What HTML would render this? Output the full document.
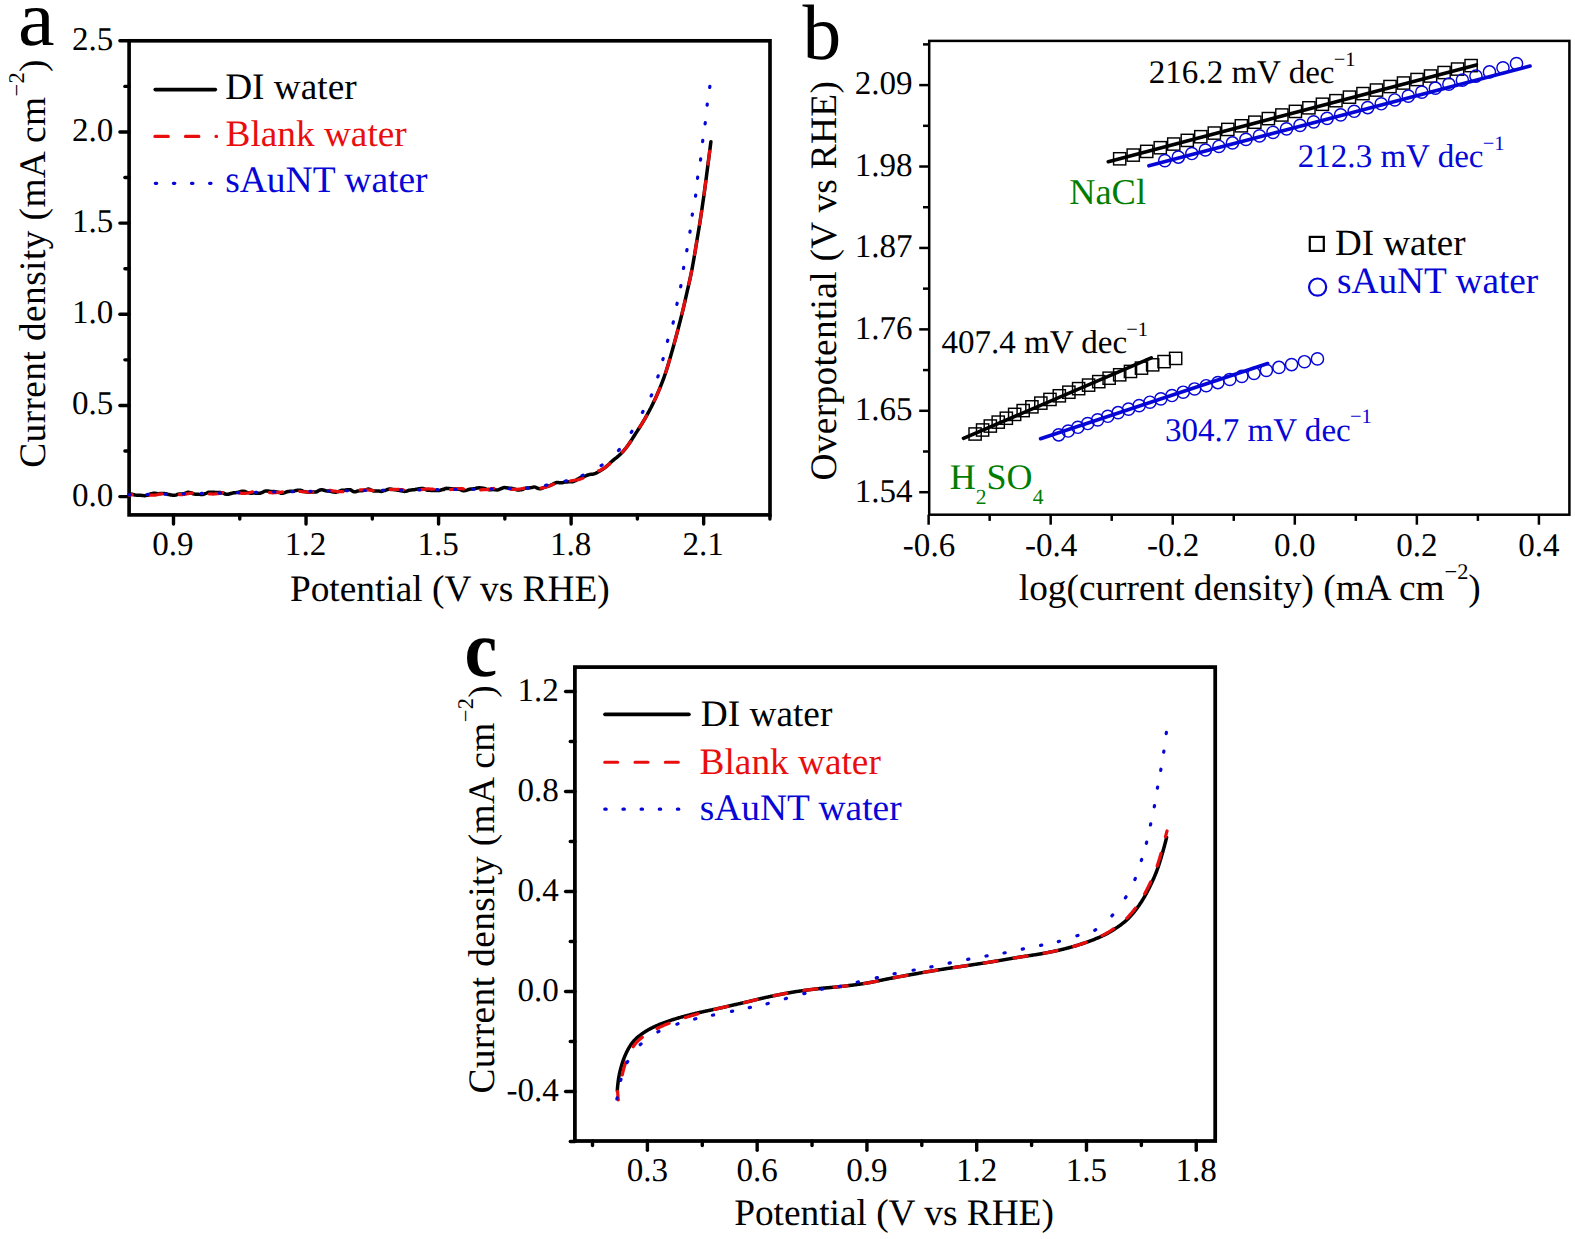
<!DOCTYPE html>
<html lang="en">
<head>
<meta charset="utf-8">
<title>Polarization curves and Tafel plots</title>
<style>
html,body{margin:0;padding:0;background:#fff;}
body{width:1575px;height:1239px;overflow:hidden;font-family:"Liberation Serif", "Times New Roman", serif;}
svg{display:block;}
</style>
</head>
<body>
<svg width="1575" height="1239" viewBox="0 0 1575 1239" font-family='"Liberation Serif", "Times New Roman", serif' text-rendering="geometricPrecision">
<rect x="129.1" y="40.8" width="640.9" height="474.1" fill="none" stroke="#000" stroke-width="3.65"/>
<line x1="173.5" y1="514.9" x2="173.5" y2="524.1" stroke="#000" stroke-width="3.4" stroke-linecap="round"/>
<text x="173" y="554.9" font-size="33.1" fill="#000" text-anchor="middle">0.9</text>
<line x1="306.04" y1="514.9" x2="306.04" y2="524.1" stroke="#000" stroke-width="3.4" stroke-linecap="round"/>
<text x="305.54" y="554.9" font-size="33.1" fill="#000" text-anchor="middle">1.2</text>
<line x1="438.58" y1="514.9" x2="438.58" y2="524.1" stroke="#000" stroke-width="3.4" stroke-linecap="round"/>
<text x="438.08" y="554.9" font-size="33.1" fill="#000" text-anchor="middle">1.5</text>
<line x1="571.12" y1="514.9" x2="571.12" y2="524.1" stroke="#000" stroke-width="3.4" stroke-linecap="round"/>
<text x="570.62" y="554.9" font-size="33.1" fill="#000" text-anchor="middle">1.8</text>
<line x1="703.66" y1="514.9" x2="703.66" y2="524.1" stroke="#000" stroke-width="3.4" stroke-linecap="round"/>
<text x="703.16" y="554.9" font-size="33.1" fill="#000" text-anchor="middle">2.1</text>
<line x1="239.77" y1="514.9" x2="239.77" y2="519.1" stroke="#000" stroke-width="3.4" stroke-linecap="round"/>
<line x1="372.31" y1="514.9" x2="372.31" y2="519.1" stroke="#000" stroke-width="3.4" stroke-linecap="round"/>
<line x1="504.85" y1="514.9" x2="504.85" y2="519.1" stroke="#000" stroke-width="3.4" stroke-linecap="round"/>
<line x1="637.39" y1="514.9" x2="637.39" y2="519.1" stroke="#000" stroke-width="3.4" stroke-linecap="round"/>
<line x1="769.93" y1="514.9" x2="769.93" y2="519.1" stroke="#000" stroke-width="3.4" stroke-linecap="round"/>
<line x1="129.1" y1="496.6" x2="119.9" y2="496.6" stroke="#000" stroke-width="3.4" stroke-linecap="round"/>
<text x="113.3" y="505.5" font-size="33.1" fill="#000" text-anchor="end">0.0</text>
<line x1="129.1" y1="405.44" x2="119.9" y2="405.44" stroke="#000" stroke-width="3.4" stroke-linecap="round"/>
<text x="113.3" y="414.34" font-size="33.1" fill="#000" text-anchor="end">0.5</text>
<line x1="129.1" y1="314.28" x2="119.9" y2="314.28" stroke="#000" stroke-width="3.4" stroke-linecap="round"/>
<text x="113.3" y="323.18" font-size="33.1" fill="#000" text-anchor="end">1.0</text>
<line x1="129.1" y1="223.12" x2="119.9" y2="223.12" stroke="#000" stroke-width="3.4" stroke-linecap="round"/>
<text x="113.3" y="232.02" font-size="33.1" fill="#000" text-anchor="end">1.5</text>
<line x1="129.1" y1="131.96" x2="119.9" y2="131.96" stroke="#000" stroke-width="3.4" stroke-linecap="round"/>
<text x="113.3" y="140.86" font-size="33.1" fill="#000" text-anchor="end">2.0</text>
<line x1="129.1" y1="40.8" x2="119.9" y2="40.8" stroke="#000" stroke-width="3.4" stroke-linecap="round"/>
<text x="113.3" y="49.7" font-size="33.1" fill="#000" text-anchor="end">2.5</text>
<line x1="129.1" y1="451.02" x2="124.9" y2="451.02" stroke="#000" stroke-width="3.4" stroke-linecap="round"/>
<line x1="129.1" y1="359.86" x2="124.9" y2="359.86" stroke="#000" stroke-width="3.4" stroke-linecap="round"/>
<line x1="129.1" y1="268.7" x2="124.9" y2="268.7" stroke="#000" stroke-width="3.4" stroke-linecap="round"/>
<line x1="129.1" y1="177.54" x2="124.9" y2="177.54" stroke="#000" stroke-width="3.4" stroke-linecap="round"/>
<line x1="129.1" y1="86.38" x2="124.9" y2="86.38" stroke="#000" stroke-width="3.4" stroke-linecap="round"/>
<text x="449.8" y="601" font-size="37.35" fill="#000" text-anchor="middle">Potential (V vs RHE)</text>
<text x="44.6" y="263.4" font-size="37.4" fill="#000" text-anchor="middle" transform="rotate(-90 44.6 263.4)" letter-spacing="0.40">Current density (mA cm<tspan font-size="22.44" dy="-20.7">−2</tspan><tspan font-size="37.4" dy="20.7">)</tspan></text>
<text transform="translate(17.9 45.1) scale(1.03 0.985)" font-size="80">a</text>
<path d="M129.5 493.59 L130.42 493.91 L131.34 494.26 L132.27 494.26 L133.19 494.56 L134.11 494.8 L135.03 495.02 L135.95 495.12 L136.87 495.19 L137.8 495.19 L138.72 495.16 L139.64 495.16 L140.56 495.22 L141.48 495.41 L142.4 495.53 L143.33 495.61 L144.25 495.64 L145.17 495.64 L146.09 495.48 L147.01 495.38 L147.94 495.26 L148.86 494.95 L149.78 494.22 L150.7 493.79 L151.62 493.64 L152.54 493.48 L153.47 493.3 L154.39 493.29 L155.31 493.33 L156.23 493.41 L157.15 493.56 L158.07 493.68 L159 493.65 L159.92 493.62 L160.84 493.58 L161.76 493.52 L162.68 493.48 L163.61 493.45 L164.53 493.58 L165.45 493.74 L166.37 493.76 L167.29 494.18 L168.21 494.47 L169.14 494.49 L170.06 494.74 L170.98 494.96 L171.9 495.1 L172.82 495.27 L173.74 495.22 L174.67 495.26 L175.59 495.13 L176.51 494.83 L177.43 494.46 L178.35 494.17 L179.27 494 L180.2 493.98 L181.12 493.88 L182.04 493.89 L182.96 493.8 L183.88 493.81 L184.81 493.47 L185.73 492.98 L186.65 492.71 L187.57 492.36 L188.49 492.33 L189.41 492.42 L190.34 492.66 L191.26 492.79 L192.18 493.21 L193.1 493.85 L194.02 493.93 L194.94 494.14 L195.87 494.16 L196.79 494.17 L197.71 494.17 L198.63 494.24 L199.55 494.37 L200.47 494.47 L201.4 494.49 L202.32 494.43 L203.24 494.39 L204.16 494.13 L205.08 493.66 L206.01 493.42 L206.93 492.97 L207.85 492.42 L208.77 492.21 L209.69 492.15 L210.61 492.21 L211.54 492.16 L212.46 492.15 L213.38 492.19 L214.3 492.24 L215.22 492.37 L216.14 492.45 L217.07 492.51 L217.99 492.55 L218.91 492.51 L219.83 492.48 L220.75 492.59 L221.67 492.85 L222.6 492.91 L223.52 493.2 L224.44 493.64 L225.36 494.14 L226.28 494.32 L227.21 494.34 L228.13 494.29 L229.05 494.06 L229.97 493.74 L230.89 493.5 L231.81 493.24 L232.74 493.04 L233.66 492.8 L234.58 492.74 L235.5 492.65 L236.42 492.54 L237.34 492.38 L238.27 492.27 L239.19 491.88 L240.11 491.71 L241.03 491.46 L241.95 491.36 L242.87 491.32 L243.8 491.31 L244.72 491.48 L245.64 491.74 L246.56 492.14 L247.48 492.38 L248.4 492.59 L249.33 492.86 L250.25 493.21 L251.17 493.24 L252.09 493.19 L253.01 493.12 L253.94 493.08 L254.86 493.08 L255.78 493.15 L256.7 493.2 L257.62 493.22 L258.54 493.25 L259.47 493.26 L260.39 493.16 L261.31 492.75 L262.23 492.52 L263.15 491.96 L264.07 491.47 L265 491.18 L265.92 490.92 L266.84 490.91 L267.76 490.96 L268.68 491.21 L269.6 491.27 L270.53 491.43 L271.45 491.54 L272.37 491.62 L273.29 491.61 L274.21 491.61 L275.13 491.64 L276.06 491.83 L276.98 491.92 L277.9 492.19 L278.82 492.45 L279.74 492.55 L280.66 493.15 L281.59 493.22 L282.51 493.2 L283.43 492.95 L284.35 492.81 L285.27 492.43 L286.2 491.94 L287.12 491.75 L288.04 491.56 L288.96 491.45 L289.88 491.35 L290.8 491.36 L291.73 491.35 L292.65 491.3 L293.57 491.18 L294.49 490.99 L295.41 490.63 L296.33 490.39 L297.26 490.3 L298.18 490.28 L299.1 490.25 L300.02 490.27 L300.94 490.33 L301.86 490.62 L302.79 491.1 L303.71 491.37 L304.63 491.61 L305.55 491.66 L306.47 491.92 L307.4 492.12 L308.32 492.19 L309.24 492.15 L310.16 492.05 L311.08 491.98 L312 491.98 L312.93 492.01 L313.85 492.05 L314.77 492.07 L315.69 492.01 L316.61 491.79 L317.54 491.37 L318.46 490.71 L319.38 490.15 L320.3 489.92 L321.22 489.8 L322.14 489.83 L323.07 489.91 L323.99 490.33 L324.91 490.5 L325.83 490.85 L326.75 490.91 L327.67 490.96 L328.6 491.05 L329.52 491.14 L330.44 491.35 L331.36 491.55 L332.28 491.74 L333.21 491.97 L334.13 492.12 L335.05 492.28 L335.97 492.19 L336.89 491.7 L337.81 491.8 L338.74 491.44 L339.66 490.95 L340.58 490.67 L341.5 490.29 L342.42 490.15 L343.35 490.13 L344.27 490.14 L345.19 490.07 L346.11 489.97 L347.03 489.84 L347.95 489.77 L348.88 489.74 L349.8 489.73 L350.72 489.84 L351.64 490.52 L352.56 491.12 L353.49 491.57 L354.41 491.87 L355.33 491.81 L356.25 491.58 L357.17 491.14 L358.09 490.91 L359.02 490.82 L359.94 490.69 L360.86 490.74 L361.78 490.69 L362.7 490.52 L363.63 490.41 L364.55 490.17 L365.47 489.96 L366.39 489.73 L367.31 489.15 L368.24 489.08 L369.16 489.19 L370.08 489.63 L371 489.92 L371.92 490.41 L372.84 490.71 L373.77 490.96 L374.69 490.93 L375.61 490.95 L376.53 490.94 L377.45 490.93 L378.38 491.03 L379.3 491.09 L380.22 491.31 L381.14 491.39 L382.06 491.29 L382.98 491.08 L383.91 490.58 L384.83 490.55 L385.75 490.12 L386.67 489.84 L387.59 489.44 L388.52 489.2 L389.44 489.07 L390.36 489.08 L391.28 489.27 L392.2 489.56 L393.12 489.62 L394.05 489.64 L394.97 489.65 L395.89 489.74 L396.81 490.09 L397.73 490.18 L398.66 490.37 L399.58 490.52 L400.5 490.66 L401.42 490.71 L402.34 491.08 L403.27 491.18 L404.19 491.4 L405.11 491.26 L406.03 491.15 L406.95 491.01 L407.87 490.8 L408.8 490.29 L409.72 490.15 L410.64 490.1 L411.56 489.93 L412.48 489.81 L413.41 489.78 L414.33 489.65 L415.25 489.52 L416.17 489.29 L417.09 489.15 L418.01 488.91 L418.94 488.7 L419.86 488.7 L420.78 488.52 L421.7 488.48 L422.62 488.46 L423.55 488.46 L424.47 488.9 L425.39 489.31 L426.31 489.84 L427.23 490.27 L428.16 490.31 L429.08 490.24 L430 490.35 L430.92 490.42 L431.84 490.39 L432.76 490.35 L433.69 490.38 L434.61 490.39 L435.53 490.48 L436.45 490.59 L437.37 490.58 L438.3 490.61 L439.22 490.52 L440.14 490.37 L441.06 489.99 L441.98 489.78 L442.9 489.34 L443.83 489.39 L444.75 488.84 L445.67 488.4 L446.59 488.35 L447.51 488.38 L448.44 488.52 L449.36 488.47 L450.28 488.63 L451.2 488.77 L452.12 488.82 L453.05 488.91 L453.97 488.93 L454.89 488.96 L455.81 489 L456.73 489.14 L457.65 489.1 L458.58 489.17 L459.5 489.35 L460.42 489.73 L461.34 490.07 L462.26 490.58 L463.19 490.66 L464.11 490.72 L465.03 490.63 L465.95 490.45 L466.87 490.1 L467.79 489.88 L468.72 489.41 L469.64 489.25 L470.56 489.07 L471.48 489.02 L472.4 488.89 L473.33 488.87 L474.25 488.68 L475.17 488.51 L476.09 488.25 L477.01 487.96 L477.94 487.9 L478.86 487.86 L479.78 487.83 L480.7 487.95 L481.62 487.94 L482.54 488.2 L483.47 488.3 L484.39 488.44 L485.31 488.74 L486.23 489.17 L487.15 489.36 L488.08 489.53 L489 489.67 L489.92 489.71 L490.84 489.63 L491.76 489.63 L492.68 489.61 L493.61 489.6 L494.53 489.69 L495.45 489.8 L496.37 489.88 L497.29 489.9 L498.22 489.85 L499.14 489.58 L500.06 489.02 L500.98 488.79 L501.9 488.33 L502.82 487.85 L503.75 487.55 L504.67 487.6 L505.59 487.69 L506.51 487.8 L507.43 487.95 L508.36 488.05 L509.28 488.23 L510.2 488.32 L511.12 488.36 L512.04 488.48 L512.96 488.58 L513.89 488.84 L514.81 489.06 L515.73 489.37 L516.65 489.79 L517.57 489.92 L518.49 489.91 L519.42 489.9 L520.34 489.82 L521.26 489.76 L522.18 489.62 L523.11 489.16 L524.03 488.56 L524.96 488.35 L525.89 488.08 L526.81 487.95 L527.74 487.95 L528.66 487.9 L529.59 487.82 L530.51 487.67 L531.43 487.62 L532.35 487.44 L533.28 487.14 L534.19 486.96 L535.11 487.15 L536.03 487.34 L536.94 488.04 L537.85 488.5 L538.76 488.52 L539.66 488.74 L540.56 488.67 L541.46 488.48 L542.36 488.17 L543.25 487.75 L544.15 487.4 L545.04 487.1 L545.94 486.83 L546.83 486.6 L547.73 486.37 L548.63 485.98 L549.54 485.63 L550.44 485.26 L551.35 484.85 L552.25 484.59 L553.16 484.15 L554.06 483.35 L554.97 483.06 L555.87 482.77 L556.77 482.59 L557.68 482.45 L558.58 482.6 L559.48 482.79 L560.38 482.77 L561.28 482.78 L562.19 482.66 L563.09 482.51 L563.99 482.33 L564.89 482.14 L565.79 481.99 L566.68 481.9 L567.58 481.88 L568.48 481.87 L569.38 481.72 L570.27 481.77 L571.17 481.69 L572.07 481.78 L572.96 481.66 L573.85 481.31 L574.75 480.89 L575.64 480.64 L576.53 479.91 L577.42 479.09 L578.31 478.79 L579.19 478.27 L580.08 477.78 L580.97 477.53 L581.85 477.24 L582.74 477 L583.61 476.74 L584.49 476.39 L585.36 476.01 L586.23 475.66 L587.09 475.26 L587.95 474.94 L588.81 474.7 L589.67 474.43 L590.53 474.32 L591.38 474.15 L592.23 474.13 L593.08 474.13 L593.92 473.85 L594.76 473.65 L595.6 473.29 L596.44 472.89 L597.28 472.45 L598.12 472.01 L598.96 471.55 L599.79 471.01 L600.61 470.52 L601.41 470 L602.19 469.5 L602.96 469.01 L603.72 468.5 L604.47 467.97 L605.22 467.41 L605.96 466.82 L606.69 466.23 L607.41 465.53 L608.13 464.96 L608.85 464.36 L609.56 463.67 L610.27 462.83 L610.97 462.14 L611.67 461.54 L612.38 460.89 L613.08 460.3 L613.78 459.75 L614.49 459.19 L615.19 458.62 L615.89 458.08 L616.58 457.54 L617.27 457.01 L617.96 456.45 L618.64 455.82 L619.32 455.18 L619.98 454.54 L620.65 453.9 L621.3 453.25 L621.94 452.6 L622.58 451.94 L623.2 451.29 L623.81 450.61 L624.41 449.92 L625 449.22 L625.58 448.51 L626.14 447.79 L626.7 447.05 L627.25 446.31 L627.8 445.56 L628.33 444.81 L628.86 444.05 L629.38 443.29 L629.9 442.52 L630.41 441.75 L630.92 440.98 L631.42 440.2 L631.93 439.42 L632.42 438.63 L632.92 437.85 L633.42 437.06 L633.91 436.28 L634.41 435.49 L634.9 434.71 L635.4 433.93 L635.9 433.15 L636.4 432.38 L636.9 431.61 L637.4 430.83 L637.9 430.06 L638.4 429.28 L638.9 428.5 L639.39 427.73 L639.89 426.95 L640.38 426.17 L640.87 425.38 L641.36 424.6 L641.85 423.82 L642.33 423.03 L642.82 422.24 L643.29 421.46 L643.77 420.66 L644.24 419.87 L644.71 419.08 L645.17 418.28 L645.63 417.48 L646.08 416.68 L646.53 415.88 L646.98 415.08 L647.42 414.27 L647.86 413.46 L648.3 412.65 L648.73 411.84 L649.16 411.02 L649.59 410.21 L650.02 409.39 L650.44 408.57 L650.87 407.75 L651.28 406.92 L651.7 406.1 L652.11 405.27 L652.52 404.45 L652.93 403.62 L653.33 402.79 L653.73 401.95 L654.13 401.12 L654.53 400.29 L654.92 399.45 L655.3 398.62 L655.69 397.78 L656.07 396.94 L656.45 396.1 L656.82 395.26 L657.19 394.42 L657.56 393.57 L657.92 392.73 L658.29 391.88 L658.65 391.03 L659.01 390.18 L659.36 389.33 L659.71 388.48 L660.06 387.62 L660.41 386.77 L660.76 385.91 L661.1 385.05 L661.44 384.2 L661.77 383.33 L662.11 382.47 L662.43 381.61 L662.76 380.75 L663.08 379.88 L663.4 379.02 L663.72 378.15 L664.03 377.29 L664.34 376.42 L664.64 375.55 L664.94 374.68 L665.24 373.81 L665.53 372.94 L665.82 372.06 L666.11 371.19 L666.39 370.31 L666.67 369.43 L666.95 368.55 L667.22 367.67 L667.5 366.79 L667.76 365.91 L668.03 365.03 L668.3 364.14 L668.56 363.26 L668.82 362.37 L669.08 361.49 L669.34 360.6 L669.6 359.72 L669.86 358.83 L670.12 357.94 L670.37 357.06 L670.63 356.17 L670.89 355.29 L671.14 354.4 L671.4 353.52 L671.65 352.63 L671.91 351.74 L672.16 350.86 L672.41 349.97 L672.66 349.08 L672.91 348.19 L673.15 347.31 L673.4 346.42 L673.64 345.53 L673.89 344.64 L674.13 343.75 L674.37 342.86 L674.62 341.97 L674.86 341.08 L675.1 340.19 L675.34 339.3 L675.58 338.41 L675.82 337.52 L676.05 336.63 L676.29 335.74 L676.53 334.85 L676.77 333.96 L677 333.07 L677.24 332.17 L677.48 331.28 L677.71 330.39 L677.95 329.5 L678.18 328.61 L678.42 327.72 L678.65 326.83 L678.89 325.93 L679.12 325.04 L679.35 324.15 L679.58 323.26 L679.82 322.37 L680.05 321.47 L680.28 320.58 L680.5 319.69 L680.73 318.79 L680.96 317.9 L681.18 317.01 L681.41 316.11 L681.63 315.22 L681.85 314.32 L682.07 313.43 L682.29 312.53 L682.51 311.64 L682.73 310.74 L682.94 309.84 L683.15 308.95 L683.37 308.05 L683.58 307.15 L683.79 306.25 L684 305.36 L684.2 304.46 L684.41 303.56 L684.62 302.66 L684.82 301.76 L685.03 300.86 L685.24 299.97 L685.44 299.07 L685.64 298.17 L685.85 297.27 L686.05 296.37 L686.26 295.47 L686.46 294.57 L686.67 293.67 L686.87 292.77 L687.08 291.87 L687.28 290.98 L687.49 290.08 L687.69 289.18 L687.9 288.28 L688.1 287.38 L688.31 286.48 L688.51 285.58 L688.72 284.68 L688.92 283.78 L689.12 282.88 L689.32 281.98 L689.52 281.08 L689.72 280.18 L689.92 279.28 L690.12 278.38 L690.31 277.48 L690.5 276.58 L690.69 275.68 L690.88 274.78 L691.07 273.87 L691.25 272.97 L691.43 272.07 L691.61 271.16 L691.79 270.26 L691.97 269.35 L692.14 268.45 L692.31 267.54 L692.48 266.63 L692.65 265.73 L692.81 264.82 L692.98 263.91 L693.14 263.01 L693.3 262.1 L693.46 261.19 L693.62 260.28 L693.77 259.37 L693.93 258.47 L694.08 257.56 L694.24 256.65 L694.39 255.74 L694.54 254.83 L694.69 253.92 L694.84 253.01 L695 252.1 L695.15 251.19 L695.3 250.28 L695.45 249.37 L695.6 248.46 L695.75 247.55 L695.9 246.64 L696.05 245.73 L696.2 244.82 L696.35 243.91 L696.5 243 L696.65 242.1 L696.8 241.19 L696.96 240.28 L697.11 239.37 L697.26 238.46 L697.41 237.55 L697.57 236.64 L697.72 235.73 L697.87 234.82 L698.02 233.91 L698.18 233 L698.33 232.09 L698.48 231.18 L698.63 230.27 L698.78 229.36 L698.93 228.45 L699.08 227.55 L699.23 226.64 L699.38 225.73 L699.52 224.82 L699.67 223.9 L699.81 222.99 L699.96 222.08 L700.1 221.17 L700.24 220.26 L700.38 219.35 L700.53 218.44 L700.67 217.53 L700.8 216.62 L700.94 215.71 L701.08 214.8 L701.22 213.88 L701.36 212.97 L701.49 212.06 L701.63 211.15 L701.76 210.24 L701.9 209.32 L702.03 208.41 L702.17 207.5 L702.3 206.59 L702.43 205.68 L702.56 204.76 L702.7 203.85 L702.83 202.94 L702.96 202.03 L703.09 201.11 L703.22 200.2 L703.35 199.29 L703.48 198.37 L703.61 197.46 L703.73 196.55 L703.86 195.64 L703.99 194.72 L704.12 193.81 L704.24 192.9 L704.37 191.98 L704.49 191.07 L704.62 190.16 L704.74 189.24 L704.86 188.33 L704.99 187.42 L705.11 186.5 L705.23 185.59 L705.35 184.67 L705.47 183.76 L705.59 182.85 L705.71 181.93 L705.83 181.02 L705.95 180.1 L706.07 179.19 L706.19 178.27 L706.31 177.36 L706.43 176.45 L706.54 175.53 L706.66 174.62 L706.78 173.7 L706.9 172.79 L707.02 171.87 L707.14 170.96 L707.25 170.05 L707.37 169.13 L707.49 168.22 L707.61 167.3 L707.73 166.39 L707.85 165.47 L707.96 164.56 L708.08 163.65 L708.2 162.73 L708.32 161.82 L708.44 160.9 L708.56 159.99 L708.67 159.07 L708.79 158.16 L708.91 157.25 L709.03 156.33 L709.15 155.42 L709.26 154.5 L709.38 153.59 L709.5 152.67 L709.62 151.76 L709.73 150.85 L709.85 149.93 L709.97 149.02 L710.08 148.1 L710.2 147.19 L710.32 146.27 L710.43 145.36 L710.55 144.44 L710.67 143.53 L710.78 142.61 L710.9 141.7" fill="none" stroke="#000" stroke-width="3.5" stroke-linecap="round" stroke-linejoin="round"/>
<path d="M129.5 495.32 L130.42 495.11 L131.34 494.96 L132.27 494.72 L133.19 494.44 L134.11 494.18 L135.03 494.08 L135.95 494 L136.87 493.9 L137.8 493.85 L138.72 493.84 L139.64 493.84 L140.56 493.81 L141.48 493.85 L142.4 493.95 L143.33 494.08 L144.25 494.35 L145.17 494.56 L146.09 494.65 L147.01 494.86 L147.94 494.97 L148.86 495.13 L149.78 495.18 L150.7 495.21 L151.62 495.19 L152.54 495.14 L153.47 495.12 L154.39 495.04 L155.31 495.06 L156.23 494.94 L157.15 494.74 L158.07 494.41 L159 494.2 L159.92 494.11 L160.84 494.09 L161.76 493.77 L162.68 493.74 L163.61 493.55 L164.53 493.58 L165.45 493.47 L166.37 493.36 L167.29 493.31 L168.21 493.29 L169.14 493.28 L170.06 493.28 L170.98 493.36 L171.9 493.47 L172.82 493.55 L173.74 493.68 L174.67 493.72 L175.59 493.95 L176.51 494.2 L177.43 494.25 L178.35 494.37 L179.27 494.53 L180.2 494.56 L181.12 494.64 L182.04 494.6 L182.96 494.54 L183.88 494.39 L184.81 494.12 L185.73 494.08 L186.65 493.86 L187.57 493.71 L188.49 493.56 L189.41 493.34 L190.34 493.23 L191.26 493.2 L192.18 493.17 L193.1 493.04 L194.02 492.9 L194.94 492.83 L195.87 492.78 L196.79 492.75 L197.71 492.79 L198.63 492.86 L199.55 492.9 L200.47 492.96 L201.4 493.17 L202.32 493.25 L203.24 493.34 L204.16 493.47 L205.08 493.5 L206.01 493.71 L206.93 493.63 L207.85 493.86 L208.77 493.92 L209.69 493.92 L210.61 494 L211.54 493.97 L212.46 494.03 L213.38 494.03 L214.3 494 L215.22 493.96 L216.14 493.84 L217.07 493.77 L217.99 493.64 L218.91 493.47 L219.83 493.16 L220.75 493.04 L221.67 492.87 L222.6 492.62 L223.52 492.68 L224.44 492.56 L225.36 492.57 L226.28 492.57 L227.21 492.31 L228.13 492.2 L229.05 492.12 L229.97 492.11 L230.89 492.13 L231.81 492.16 L232.74 492.19 L233.66 492.27 L234.58 492.38 L235.5 492.63 L236.42 492.74 L237.34 492.91 L238.27 493.01 L239.19 493.13 L240.11 493.13 L241.03 493.3 L241.95 493.34 L242.87 493.38 L243.8 493.4 L244.72 493.39 L245.64 493.32 L246.56 493.23 L247.48 493.11 L248.4 492.95 L249.33 492.73 L250.25 492.52 L251.17 492.23 L252.09 491.94 L253.01 491.77 L253.94 491.74 L254.86 491.59 L255.78 491.58 L256.7 491.59 L257.62 491.62 L258.54 491.58 L259.47 491.68 L260.39 491.7 L261.31 491.95 L262.23 491.85 L263.15 491.97 L264.07 492.17 L265 492.26 L265.92 492.31 L266.84 492.45 L267.76 492.52 L268.68 492.6 L269.6 492.68 L270.53 492.72 L271.45 492.76 L272.37 492.8 L273.29 492.79 L274.21 492.75 L275.13 492.71 L276.06 492.59 L276.98 492.55 L277.9 492.36 L278.82 492.45 L279.74 492.39 L280.66 492.37 L281.59 492.15 L282.51 491.96 L283.43 491.92 L284.35 491.81 L285.27 491.52 L286.2 491.37 L287.12 491.18 L288.04 491.16 L288.96 491.14 L289.88 490.99 L290.8 490.85 L291.73 490.82 L292.65 490.83 L293.57 490.83 L294.49 490.94 L295.41 490.99 L296.33 491.05 L297.26 491.01 L298.18 491.08 L299.1 491.21 L300.02 491.46 L300.94 491.48 L301.86 491.7 L302.79 491.79 L303.71 491.87 L304.63 491.9 L305.55 491.87 L306.47 491.88 L307.4 492.05 L308.32 492.05 L309.24 492.07 L310.16 492.1 L311.08 492.08 L312 492.06 L312.93 492.02 L313.85 491.95 L314.77 491.8 L315.69 491.69 L316.61 491.57 L317.54 491.35 L318.46 491.13 L319.38 491.05 L320.3 490.91 L321.22 490.88 L322.14 490.63 L323.07 490.59 L323.99 490.46 L324.91 490.3 L325.83 490.25 L326.75 490.25 L327.67 490.24 L328.6 490.25 L329.52 490.35 L330.44 490.45 L331.36 490.55 L332.28 490.91 L333.21 490.97 L334.13 491.05 L335.05 491.14 L335.97 491.29 L336.89 491.42 L337.81 491.49 L338.74 491.59 L339.66 491.64 L340.58 491.64 L341.5 491.62 L342.42 491.61 L343.35 491.58 L344.27 491.55 L345.19 491.49 L346.11 491.47 L347.03 491.42 L347.95 491.31 L348.88 491.22 L349.8 491.06 L350.72 491 L351.64 490.87 L352.56 490.82 L353.49 490.69 L354.41 490.51 L355.33 490.39 L356.25 490.37 L357.17 490.25 L358.09 490.1 L359.02 489.92 L359.94 489.84 L360.86 489.8 L361.78 489.78 L362.7 489.75 L363.63 489.75 L364.55 489.74 L365.47 489.77 L366.39 489.75 L367.31 489.86 L368.24 489.96 L369.16 490.1 L370.08 490.14 L371 490.21 L371.92 490.42 L372.84 490.64 L373.77 490.97 L374.69 491.1 L375.61 491.07 L376.53 491.12 L377.45 491.14 L378.38 491.13 L379.3 491.09 L380.22 491 L381.14 490.92 L382.06 490.77 L382.98 490.5 L383.91 490.41 L384.83 490.45 L385.75 490.39 L386.67 490.09 L387.59 489.92 L388.52 489.8 L389.44 489.75 L390.36 489.56 L391.28 489.45 L392.2 489.39 L393.12 489.36 L394.05 489.34 L394.97 489.33 L395.89 489.37 L396.81 489.5 L397.73 489.46 L398.66 489.45 L399.58 489.53 L400.5 489.64 L401.42 489.63 L402.34 489.69 L403.27 489.78 L404.19 489.86 L405.11 489.95 L406.03 490.08 L406.95 490.29 L407.87 490.46 L408.8 490.59 L409.72 490.67 L410.64 490.68 L411.56 490.7 L412.48 490.71 L413.41 490.67 L414.33 490.58 L415.25 490.47 L416.17 490.35 L417.09 490.18 L418.01 490.18 L418.94 490.04 L419.86 489.95 L420.78 489.71 L421.7 489.62 L422.62 489.46 L423.55 489.36 L424.47 489.2 L425.39 489.06 L426.31 489 L427.23 488.95 L428.16 488.93 L429.08 488.96 L430 488.99 L430.92 489.05 L431.84 489.11 L432.76 489.13 L433.69 489.25 L434.61 489.41 L435.53 489.46 L436.45 489.74 L437.37 489.8 L438.3 489.99 L439.22 490.13 L440.14 490.1 L441.06 490.19 L441.98 490.18 L442.9 490.25 L443.83 490.32 L444.75 490.34 L445.67 490.28 L446.59 490.27 L447.51 490.22 L448.44 490.03 L449.36 489.89 L450.28 489.58 L451.2 489.5 L452.12 489.4 L453.05 489.38 L453.97 489.27 L454.89 489.01 L455.81 488.96 L456.73 488.79 L457.65 488.68 L458.58 488.61 L459.5 488.58 L460.42 488.58 L461.34 488.7 L462.26 488.7 L463.19 488.83 L464.11 489.07 L465.03 489.24 L465.95 489.53 L466.87 489.38 L467.79 489.48 L468.72 489.5 L469.64 489.58 L470.56 489.68 L471.48 489.82 L472.4 489.85 L473.33 489.95 L474.25 489.94 L475.17 489.99 L476.09 489.99 L477.01 489.97 L477.94 489.96 L478.86 489.95 L479.78 489.94 L480.7 489.92 L481.62 489.83 L482.54 489.7 L483.47 489.68 L484.39 489.72 L485.31 489.63 L486.23 489.62 L487.15 489.52 L488.08 489.44 L489 489.07 L489.92 489.08 L490.84 488.9 L491.76 488.59 L492.68 488.49 L493.61 488.43 L494.53 488.23 L495.45 488.25 L496.37 488.26 L497.29 488.23 L498.22 488.14 L499.14 488.07 L500.06 488.05 L500.98 488.13 L501.9 488.17 L502.82 488.25 L503.75 488.31 L504.67 488.52 L505.59 488.64 L506.51 488.73 L507.43 489.01 L508.36 489.22 L509.28 489.36 L510.2 489.36 L511.12 489.36 L512.04 489.4 L512.96 489.42 L513.89 489.42 L514.81 489.4 L515.73 489.36 L516.65 489.32 L517.57 489.24 L518.49 489.16 L519.42 489.08 L520.34 488.97 L521.26 488.77 L522.18 488.58 L523.11 488.5 L524.03 488.31 L524.96 488.14 L525.89 487.95 L526.81 487.84 L527.74 487.67 L528.66 487.57 L529.59 487.54 L530.51 487.51 L531.43 487.48 L532.35 487.43 L533.28 487.41 L534.19 487.39 L535.11 487.4 L536.03 487.51 L536.94 487.76 L537.85 487.84 L538.76 488.11 L539.66 488.18 L540.56 488.22 L541.46 488.1 L542.36 487.89 L543.25 487.73 L544.15 487.53 L545.04 487.27 L545.94 487.01 L546.83 486.73 L547.73 486.42 L548.63 486.2 L549.54 485.96 L550.44 485.59 L551.35 485.11 L552.25 484.77 L553.16 484.37 L554.06 484.05 L554.97 483.72 L555.87 483.48 L556.77 483.23 L557.68 483.01 L558.58 482.78 L559.48 482.59 L560.38 482.45 L561.28 482.35 L562.19 482.21 L563.09 482.18 L563.99 481.86 L564.89 481.67 L565.79 481.55 L566.68 481.32 L567.58 481.28 L568.48 481.23 L569.38 481.08 L570.27 481.01 L571.17 480.79 L572.07 480.63 L572.96 480.51 L573.85 480.27 L574.75 480.26 L575.64 480.09 L576.53 480.02 L577.42 479.84 L578.31 479.64 L579.19 479.39 L580.08 479.13 L580.97 478.85 L581.85 478.54 L582.74 478.14 L583.61 477.8 L584.49 477.42 L585.36 476.99 L586.23 476.51 L587.09 476.09 L587.95 475.68 L588.81 475.29 L589.67 474.85 L590.53 474.4 L591.38 474.01 L592.23 473.6 L593.08 473.17 L593.92 472.77 L594.76 472.4 L595.6 472.02 L596.44 471.68 L597.28 471.36 L598.12 471.06 L598.96 470.72 L599.79 470.39 L600.61 470.06 L601.41 469.69 L602.19 469.2 L602.96 468.77 L603.72 468.33 L604.47 467.87 L605.22 467.36 L605.96 466.84 L606.69 466.24 L607.41 465.65 L608.13 465 L608.85 464.43 L609.56 463.91 L610.27 463.35 L610.97 462.75 L611.67 462.16 L612.38 461.55 L613.08 460.94 L613.78 460.33 L614.49 459.69 L615.19 459.06 L615.89 458.43 L616.58 457.76 L617.27 457.1 L617.96 456.43 L618.64 455.75 L619.32 455.1 L619.98 454.46 L620.65 453.79 L621.3 453.14 L621.94 452.47 L622.58 451.81 L623.2 451.14 L623.81 450.47 L624.41 449.8 L625 449.12 L625.58 448.42 L626.14 447.72 L626.7 447.01 L627.25 446.28 L627.8 445.55 L628.33 444.81 L628.86 444.05 L629.38 443.29 L629.9 442.52 L630.41 441.75 L630.92 440.98 L631.42 440.2 L631.93 439.42 L632.42 438.63 L632.92 437.85 L633.42 437.06 L633.91 436.28 L634.41 435.49 L634.9 434.71 L635.4 433.93 L635.9 433.15 L636.4 432.38 L636.9 431.61 L637.4 430.83 L637.9 430.06 L638.4 429.28 L638.9 428.5 L639.39 427.73 L639.89 426.95 L640.38 426.17 L640.87 425.38 L641.36 424.6 L641.85 423.82 L642.33 423.03 L642.82 422.24 L643.29 421.46 L643.77 420.66 L644.24 419.87 L644.71 419.08 L645.17 418.28 L645.63 417.48 L646.08 416.68 L646.53 415.88 L646.98 415.08 L647.42 414.27 L647.86 413.46 L648.3 412.65 L648.73 411.84 L649.16 411.02 L649.59 410.21 L650.02 409.39 L650.44 408.57 L650.87 407.75 L651.28 406.92 L651.7 406.1 L652.11 405.27 L652.52 404.45 L652.93 403.62 L653.33 402.79 L653.73 401.95 L654.13 401.12 L654.53 400.29 L654.92 399.45 L655.3 398.62 L655.69 397.78 L656.07 396.94 L656.45 396.1 L656.82 395.26 L657.19 394.42 L657.56 393.57 L657.92 392.73 L658.29 391.88 L658.65 391.03 L659.01 390.18 L659.36 389.33 L659.71 388.48 L660.06 387.62 L660.41 386.77 L660.76 385.91 L661.1 385.05 L661.44 384.2 L661.77 383.33 L662.11 382.47 L662.43 381.61 L662.76 380.75 L663.08 379.88 L663.4 379.02 L663.72 378.15 L664.03 377.29 L664.34 376.42 L664.64 375.55 L664.94 374.68 L665.24 373.81 L665.53 372.94 L665.82 372.06 L666.11 371.19 L666.39 370.31 L666.67 369.43 L666.95 368.55 L667.22 367.67 L667.5 366.79 L667.76 365.91 L668.03 365.03 L668.3 364.14 L668.56 363.26 L668.82 362.37 L669.08 361.49 L669.34 360.6 L669.6 359.72 L669.86 358.83 L670.12 357.94 L670.37 357.06 L670.63 356.17 L670.89 355.29 L671.14 354.4 L671.4 353.52 L671.65 352.63 L671.91 351.74 L672.16 350.86 L672.41 349.97 L672.66 349.08 L672.91 348.19 L673.15 347.31 L673.4 346.42 L673.64 345.53 L673.89 344.64 L674.13 343.75 L674.37 342.86 L674.62 341.97 L674.86 341.08 L675.1 340.19 L675.34 339.3 L675.58 338.41 L675.82 337.52 L676.05 336.63 L676.29 335.74 L676.53 334.85 L676.77 333.96 L677 333.07 L677.24 332.17 L677.48 331.28 L677.71 330.39 L677.95 329.5 L678.18 328.61 L678.42 327.72 L678.65 326.83 L678.89 325.93 L679.12 325.04 L679.35 324.15 L679.58 323.26 L679.82 322.37 L680.05 321.47 L680.28 320.58 L680.5 319.69 L680.73 318.79 L680.96 317.9 L681.18 317.01 L681.41 316.11 L681.63 315.22 L681.85 314.32 L682.07 313.43 L682.29 312.53 L682.51 311.64 L682.73 310.74 L682.94 309.84 L683.15 308.95 L683.37 308.05 L683.58 307.15 L683.79 306.25 L684 305.36 L684.2 304.46 L684.41 303.56 L684.62 302.66 L684.82 301.76 L685.03 300.86 L685.24 299.97 L685.44 299.07 L685.64 298.17 L685.85 297.27 L686.05 296.37 L686.26 295.47 L686.46 294.57 L686.67 293.67 L686.87 292.77 L687.08 291.87 L687.28 290.98 L687.49 290.08 L687.69 289.18 L687.9 288.28 L688.1 287.38 L688.31 286.48 L688.51 285.58 L688.72 284.68 L688.92 283.78 L689.12 282.88 L689.32 281.98 L689.52 281.08 L689.72 280.18 L689.92 279.28 L690.12 278.38 L690.31 277.48 L690.5 276.58 L690.69 275.68 L690.88 274.78 L691.07 273.87 L691.25 272.97 L691.43 272.07 L691.61 271.16 L691.79 270.26 L691.97 269.35 L692.14 268.45 L692.31 267.54 L692.48 266.63 L692.65 265.73 L692.81 264.82 L692.98 263.91 L693.14 263.01 L693.3 262.1 L693.46 261.19 L693.62 260.28 L693.77 259.37 L693.93 258.47 L694.08 257.56 L694.24 256.65 L694.39 255.74 L694.54 254.83 L694.69 253.92 L694.84 253.01 L695 252.1 L695.15 251.19 L695.3 250.28 L695.45 249.37 L695.6 248.46 L695.75 247.55 L695.9 246.64 L696.05 245.73 L696.2 244.82 L696.35 243.91 L696.5 243 L696.65 242.1 L696.8 241.19 L696.96 240.28 L697.11 239.37 L697.26 238.46 L697.41 237.55 L697.57 236.64 L697.72 235.73 L697.87 234.82 L698.02 233.91 L698.18 233 L698.33 232.09 L698.48 231.18 L698.63 230.27 L698.78 229.36 L698.93 228.45 L699.08 227.55 L699.23 226.64 L699.38 225.73 L699.52 224.82 L699.67 223.9 L699.81 222.99 L699.96 222.08 L700.1 221.17 L700.24 220.26 L700.38 219.35 L700.53 218.44 L700.67 217.53 L700.8 216.62 L700.94 215.71 L701.08 214.8 L701.22 213.88 L701.36 212.97 L701.49 212.06 L701.63 211.15 L701.76 210.24 L701.9 209.32 L702.03 208.41 L702.17 207.5 L702.3 206.59 L702.43 205.68 L702.56 204.76 L702.7 203.85 L702.83 202.94 L702.96 202.03 L703.09 201.11 L703.22 200.2 L703.35 199.29 L703.48 198.37 L703.61 197.46 L703.73 196.55 L703.86 195.64 L703.99 194.72 L704.12 193.81 L704.24 192.9 L704.37 191.98 L704.49 191.07 L704.62 190.16 L704.74 189.24 L704.86 188.33 L704.99 187.42 L705.11 186.5 L705.23 185.59 L705.35 184.67 L705.47 183.76 L705.59 182.85 L705.71 181.93 L705.83 181.02 L705.95 180.1 L706.07 179.19 L706.19 178.27 L706.31 177.36 L706.43 176.45 L706.54 175.53 L706.66 174.62 L706.78 173.7 L706.9 172.79 L707.02 171.87 L707.14 170.96 L707.25 170.05 L707.37 169.13 L707.49 168.22 L707.61 167.3 L707.73 166.39 L707.85 165.47 L707.96 164.56 L708.08 163.65 L708.2 162.73 L708.32 161.82 L708.44 160.9 L708.56 159.99 L708.67 159.07 L708.79 158.16 L708.91 157.25 L709.03 156.33 L709.15 155.42 L709.26 154.5 L709.38 153.59 L709.5 152.67 L709.62 151.76 L709.73 150.85 L709.85 149.93 L709.97 149.02 L710.08 148.1 L710.2 147.19 L710.32 146.27 L710.43 145.36 L710.55 144.44 L710.67 143.53 L710.78 142.61 L710.9 141.7" fill="none" stroke="#e90e0e" stroke-width="3.2" stroke-linecap="round" stroke-linejoin="round" stroke-dasharray="13.2 17.2" stroke-dashoffset="10.48"/>
<path d="M128.9 494.81l1.2 -0.02M147 494.48l1.2 -0.02M165.1 494.15l1.2 -0.02M183.2 493.81l1.2 -0.02M201.3 493.46l1.2 -0.02M219.4 493.11l1.2 -0.02M237.5 492.74l1.2 -0.03M255.6 492.36l1.2 -0.03M273.7 491.98l1.2 -0.02M291.8 491.62l1.2 -0.02M309.9 491.3l1.2 -0.02M328 491.02l1.2 -0.02M346.1 490.76l1.2 -0.02M364.2 490.52l1.2 -0.02M382.3 490.29l1.2 -0.02M400.4 490.06l1.2 -0.01M418.5 489.84l1.2 -0.01M436.6 489.64l1.2 -0.01M454.7 489.44l1.2 -0.01M472.8 489.23l1.2 -0.01M490.9 488.99l1.2 -0.02M509 488.74l1.2 -0.03M527.1 488.21l1.19 -0.12M545.61 485.31l1.18 -0.22M565.42 481.16l1.16 -0.31M581.95 475.64l1.1 -0.48M601.11 465.64l0.98 -0.69M618.5 450.45l0.8 -0.89M631.28 432.31l0.64 -1.02M642.41 412.43l0.57 -1.05M651.16 395.95l0.47 -1.1M657.82 376.97l0.37 -1.14M662.84 359.68l0.31 -1.16M667.44 341.38l0.32 -1.16M673.05 323.08l0.3 -1.16M676.88 304.39l0.25 -1.17M680.69 286.79l0.22 -1.18M683.5 268.49l0.2 -1.18M686.8 250.79l0.21 -1.18M689.91 232.19l0.18 -1.19M692.21 215.19l0.18 -1.19M695.51 196.19l0.17 -1.19M697.52 178.39l0.16 -1.19M700.52 160.09l0.16 -1.19M702.62 141.6l0.15 -1.19M705.13 123.8l0.15 -1.19M707.12 105.2l0.15 -1.19M709.71 87.49l0.17 -1.19" fill="none" stroke="#0606d6" stroke-width="3.2" stroke-linecap="round"/>
<line x1="155.2" y1="89.6" x2="215.4" y2="89.6" stroke="#000" stroke-width="3.6" stroke-linecap="round"/>
<path d="M154.9 136.4 H216.6" stroke="#e90e0e" stroke-width="3.1" stroke-linecap="round" stroke-dasharray="13.4 17.15" fill="none"/>
<path d="M155.3 183.3 H217.5" stroke="#0606d6" stroke-width="3.2" stroke-linecap="round" stroke-dasharray="1.4 16.7" fill="none"/>
<text x="225.2" y="98.6" font-size="37.3" fill="#000" text-anchor="start">DI water</text>
<text x="225.5" y="145.8" font-size="37.3" fill="#e90e0e" text-anchor="start">Blank water</text>
<text x="225.2" y="191.8" font-size="37.5" fill="#0606d6" text-anchor="start">sAuNT water</text>
<rect x="929.2" y="40.9" width="640.2" height="473.8" fill="none" stroke="#000" stroke-width="2.5"/>
<line x1="928.62" y1="514.7" x2="928.62" y2="524.7" stroke="#000" stroke-width="2.5" stroke-linecap="butt"/>
<text x="929.02" y="555.6" font-size="33.1" fill="#000" text-anchor="middle">-0.6</text>
<line x1="1050.68" y1="514.7" x2="1050.68" y2="524.7" stroke="#000" stroke-width="2.5" stroke-linecap="butt"/>
<text x="1051.08" y="555.6" font-size="33.1" fill="#000" text-anchor="middle">-0.4</text>
<line x1="1172.74" y1="514.7" x2="1172.74" y2="524.7" stroke="#000" stroke-width="2.5" stroke-linecap="butt"/>
<text x="1173.14" y="555.6" font-size="33.1" fill="#000" text-anchor="middle">-0.2</text>
<line x1="1294.8" y1="514.7" x2="1294.8" y2="524.7" stroke="#000" stroke-width="2.5" stroke-linecap="butt"/>
<text x="1294.8" y="555.6" font-size="33.1" fill="#000" text-anchor="middle">0.0</text>
<line x1="1416.86" y1="514.7" x2="1416.86" y2="524.7" stroke="#000" stroke-width="2.5" stroke-linecap="butt"/>
<text x="1416.86" y="555.6" font-size="33.1" fill="#000" text-anchor="middle">0.2</text>
<line x1="1538.92" y1="514.7" x2="1538.92" y2="524.7" stroke="#000" stroke-width="2.5" stroke-linecap="butt"/>
<text x="1538.92" y="555.6" font-size="33.1" fill="#000" text-anchor="middle">0.4</text>
<line x1="989.65" y1="514.7" x2="989.65" y2="520.9" stroke="#000" stroke-width="2.5" stroke-linecap="butt"/>
<line x1="1111.71" y1="514.7" x2="1111.71" y2="520.9" stroke="#000" stroke-width="2.5" stroke-linecap="butt"/>
<line x1="1233.77" y1="514.7" x2="1233.77" y2="520.9" stroke="#000" stroke-width="2.5" stroke-linecap="butt"/>
<line x1="1355.83" y1="514.7" x2="1355.83" y2="520.9" stroke="#000" stroke-width="2.5" stroke-linecap="butt"/>
<line x1="1477.89" y1="514.7" x2="1477.89" y2="520.9" stroke="#000" stroke-width="2.5" stroke-linecap="butt"/>
<line x1="929.2" y1="492.21" x2="919.2" y2="492.21" stroke="#000" stroke-width="2.5" stroke-linecap="butt"/>
<text x="912.6" y="501.51" font-size="33.1" fill="#000" text-anchor="end">1.54</text>
<line x1="929.2" y1="410.79" x2="919.2" y2="410.79" stroke="#000" stroke-width="2.5" stroke-linecap="butt"/>
<text x="912.6" y="420.09" font-size="33.1" fill="#000" text-anchor="end">1.65</text>
<line x1="929.2" y1="329.37" x2="919.2" y2="329.37" stroke="#000" stroke-width="2.5" stroke-linecap="butt"/>
<text x="912.6" y="338.67" font-size="33.1" fill="#000" text-anchor="end">1.76</text>
<line x1="929.2" y1="247.94" x2="919.2" y2="247.94" stroke="#000" stroke-width="2.5" stroke-linecap="butt"/>
<text x="912.6" y="257.24" font-size="33.1" fill="#000" text-anchor="end">1.87</text>
<line x1="929.2" y1="166.52" x2="919.2" y2="166.52" stroke="#000" stroke-width="2.5" stroke-linecap="butt"/>
<text x="912.6" y="175.82" font-size="33.1" fill="#000" text-anchor="end">1.98</text>
<line x1="929.2" y1="85.1" x2="919.2" y2="85.1" stroke="#000" stroke-width="2.5" stroke-linecap="butt"/>
<text x="912.6" y="94.4" font-size="33.1" fill="#000" text-anchor="end">2.09</text>
<line x1="929.2" y1="451.5" x2="923" y2="451.5" stroke="#000" stroke-width="2.5" stroke-linecap="butt"/>
<line x1="929.2" y1="370.08" x2="923" y2="370.08" stroke="#000" stroke-width="2.5" stroke-linecap="butt"/>
<line x1="929.2" y1="288.65" x2="923" y2="288.65" stroke="#000" stroke-width="2.5" stroke-linecap="butt"/>
<line x1="929.2" y1="207.23" x2="923" y2="207.23" stroke="#000" stroke-width="2.5" stroke-linecap="butt"/>
<line x1="929.2" y1="125.81" x2="923" y2="125.81" stroke="#000" stroke-width="2.5" stroke-linecap="butt"/>
<line x1="929.2" y1="44.39" x2="923" y2="44.39" stroke="#000" stroke-width="2.5" stroke-linecap="butt"/>
<rect x="1113.6" y="152.7" width="12.2" height="12.2" fill="none" stroke="#000" stroke-width="1.45"/>
<rect x="1127.12" y="149" width="12.2" height="12.2" fill="none" stroke="#000" stroke-width="1.45"/>
<rect x="1140.63" y="145.3" width="12.2" height="12.2" fill="none" stroke="#000" stroke-width="1.45"/>
<rect x="1154.15" y="141.62" width="12.2" height="12.2" fill="none" stroke="#000" stroke-width="1.45"/>
<rect x="1167.66" y="137.94" width="12.2" height="12.2" fill="none" stroke="#000" stroke-width="1.45"/>
<rect x="1181.18" y="134.28" width="12.2" height="12.2" fill="none" stroke="#000" stroke-width="1.45"/>
<rect x="1194.69" y="130.62" width="12.2" height="12.2" fill="none" stroke="#000" stroke-width="1.45"/>
<rect x="1208.21" y="126.98" width="12.2" height="12.2" fill="none" stroke="#000" stroke-width="1.45"/>
<rect x="1221.72" y="123.34" width="12.2" height="12.2" fill="none" stroke="#000" stroke-width="1.45"/>
<rect x="1235.24" y="119.71" width="12.2" height="12.2" fill="none" stroke="#000" stroke-width="1.45"/>
<rect x="1248.75" y="116.1" width="12.2" height="12.2" fill="none" stroke="#000" stroke-width="1.45"/>
<rect x="1262.27" y="112.49" width="12.2" height="12.2" fill="none" stroke="#000" stroke-width="1.45"/>
<rect x="1275.78" y="108.89" width="12.2" height="12.2" fill="none" stroke="#000" stroke-width="1.45"/>
<rect x="1289.3" y="105.3" width="12.2" height="12.2" fill="none" stroke="#000" stroke-width="1.45"/>
<rect x="1302.82" y="101.72" width="12.2" height="12.2" fill="none" stroke="#000" stroke-width="1.45"/>
<rect x="1316.33" y="98.15" width="12.2" height="12.2" fill="none" stroke="#000" stroke-width="1.45"/>
<rect x="1329.85" y="94.59" width="12.2" height="12.2" fill="none" stroke="#000" stroke-width="1.45"/>
<rect x="1343.36" y="91.04" width="12.2" height="12.2" fill="none" stroke="#000" stroke-width="1.45"/>
<rect x="1356.88" y="87.5" width="12.2" height="12.2" fill="none" stroke="#000" stroke-width="1.45"/>
<rect x="1370.39" y="83.96" width="12.2" height="12.2" fill="none" stroke="#000" stroke-width="1.45"/>
<rect x="1383.91" y="80.44" width="12.2" height="12.2" fill="none" stroke="#000" stroke-width="1.45"/>
<rect x="1397.42" y="76.93" width="12.2" height="12.2" fill="none" stroke="#000" stroke-width="1.45"/>
<rect x="1410.94" y="73.42" width="12.2" height="12.2" fill="none" stroke="#000" stroke-width="1.45"/>
<rect x="1424.45" y="69.93" width="12.2" height="12.2" fill="none" stroke="#000" stroke-width="1.45"/>
<rect x="1437.97" y="66.44" width="12.2" height="12.2" fill="none" stroke="#000" stroke-width="1.45"/>
<rect x="1451.48" y="62.97" width="12.2" height="12.2" fill="none" stroke="#000" stroke-width="1.45"/>
<rect x="1465" y="59.5" width="12.2" height="12.2" fill="none" stroke="#000" stroke-width="1.45"/>
<circle cx="1164.8" cy="160.6" r="6.1" fill="none" stroke="#0606d6" stroke-width="1.45"/>
<circle cx="1178.33" cy="157.06" r="6.1" fill="none" stroke="#0606d6" stroke-width="1.45"/>
<circle cx="1191.85" cy="153.53" r="6.1" fill="none" stroke="#0606d6" stroke-width="1.45"/>
<circle cx="1205.38" cy="150" r="6.1" fill="none" stroke="#0606d6" stroke-width="1.45"/>
<circle cx="1218.91" cy="146.47" r="6.1" fill="none" stroke="#0606d6" stroke-width="1.45"/>
<circle cx="1232.43" cy="142.94" r="6.1" fill="none" stroke="#0606d6" stroke-width="1.45"/>
<circle cx="1245.96" cy="139.42" r="6.1" fill="none" stroke="#0606d6" stroke-width="1.45"/>
<circle cx="1259.49" cy="135.9" r="6.1" fill="none" stroke="#0606d6" stroke-width="1.45"/>
<circle cx="1273.02" cy="132.39" r="6.1" fill="none" stroke="#0606d6" stroke-width="1.45"/>
<circle cx="1286.54" cy="128.87" r="6.1" fill="none" stroke="#0606d6" stroke-width="1.45"/>
<circle cx="1300.07" cy="125.36" r="6.1" fill="none" stroke="#0606d6" stroke-width="1.45"/>
<circle cx="1313.6" cy="121.86" r="6.1" fill="none" stroke="#0606d6" stroke-width="1.45"/>
<circle cx="1327.12" cy="118.35" r="6.1" fill="none" stroke="#0606d6" stroke-width="1.45"/>
<circle cx="1340.65" cy="114.85" r="6.1" fill="none" stroke="#0606d6" stroke-width="1.45"/>
<circle cx="1354.18" cy="111.25" r="6.1" fill="none" stroke="#0606d6" stroke-width="1.45"/>
<circle cx="1367.7" cy="107.56" r="6.1" fill="none" stroke="#0606d6" stroke-width="1.45"/>
<circle cx="1381.23" cy="103.79" r="6.1" fill="none" stroke="#0606d6" stroke-width="1.45"/>
<circle cx="1394.76" cy="99.96" r="6.1" fill="none" stroke="#0606d6" stroke-width="1.45"/>
<circle cx="1408.28" cy="96.09" r="6.1" fill="none" stroke="#0606d6" stroke-width="1.45"/>
<circle cx="1421.81" cy="92.16" r="6.1" fill="none" stroke="#0606d6" stroke-width="1.45"/>
<circle cx="1435.34" cy="88.19" r="6.1" fill="none" stroke="#0606d6" stroke-width="1.45"/>
<circle cx="1448.87" cy="84.19" r="6.1" fill="none" stroke="#0606d6" stroke-width="1.45"/>
<circle cx="1462.39" cy="80.14" r="6.1" fill="none" stroke="#0606d6" stroke-width="1.45"/>
<circle cx="1475.92" cy="76.05" r="6.1" fill="none" stroke="#0606d6" stroke-width="1.45"/>
<circle cx="1489.45" cy="71.94" r="6.1" fill="none" stroke="#0606d6" stroke-width="1.45"/>
<circle cx="1502.97" cy="67.78" r="6.1" fill="none" stroke="#0606d6" stroke-width="1.45"/>
<circle cx="1516.5" cy="63.6" r="6.1" fill="none" stroke="#0606d6" stroke-width="1.45"/>
<line x1="1108.3" y1="161.7" x2="1476.4" y2="64.9" stroke="#000" stroke-width="3.6" stroke-linecap="round"/>
<line x1="1148.9" y1="165.8" x2="1530.1" y2="66.1" stroke="#0606d6" stroke-width="3.6" stroke-linecap="round"/>
<rect x="969" y="427.9" width="12.2" height="12.2" fill="none" stroke="#000" stroke-width="1.45"/>
<rect x="976.5" y="423.9" width="12.2" height="12.2" fill="none" stroke="#000" stroke-width="1.45"/>
<rect x="984.21" y="419.94" width="12.2" height="12.2" fill="none" stroke="#000" stroke-width="1.45"/>
<rect x="992.12" y="416.02" width="12.2" height="12.2" fill="none" stroke="#000" stroke-width="1.45"/>
<rect x="1000.23" y="412.14" width="12.2" height="12.2" fill="none" stroke="#000" stroke-width="1.45"/>
<rect x="1008.55" y="408.3" width="12.2" height="12.2" fill="none" stroke="#000" stroke-width="1.45"/>
<rect x="1017.08" y="404.5" width="12.2" height="12.2" fill="none" stroke="#000" stroke-width="1.45"/>
<rect x="1025.81" y="400.74" width="12.2" height="12.2" fill="none" stroke="#000" stroke-width="1.45"/>
<rect x="1034.74" y="397.02" width="12.2" height="12.2" fill="none" stroke="#000" stroke-width="1.45"/>
<rect x="1043.88" y="393.34" width="12.2" height="12.2" fill="none" stroke="#000" stroke-width="1.45"/>
<rect x="1053.23" y="389.7" width="12.2" height="12.2" fill="none" stroke="#000" stroke-width="1.45"/>
<rect x="1062.78" y="386.1" width="12.2" height="12.2" fill="none" stroke="#000" stroke-width="1.45"/>
<rect x="1072.53" y="382.54" width="12.2" height="12.2" fill="none" stroke="#000" stroke-width="1.45"/>
<rect x="1082.49" y="379.02" width="12.2" height="12.2" fill="none" stroke="#000" stroke-width="1.45"/>
<rect x="1092.66" y="375.54" width="12.2" height="12.2" fill="none" stroke="#000" stroke-width="1.45"/>
<rect x="1103.03" y="372.1" width="12.2" height="12.2" fill="none" stroke="#000" stroke-width="1.45"/>
<rect x="1113.6" y="368.7" width="12.2" height="12.2" fill="none" stroke="#000" stroke-width="1.45"/>
<rect x="1124.38" y="365.34" width="12.2" height="12.2" fill="none" stroke="#000" stroke-width="1.45"/>
<rect x="1135.37" y="362.02" width="12.2" height="12.2" fill="none" stroke="#000" stroke-width="1.45"/>
<rect x="1146.56" y="358.74" width="12.2" height="12.2" fill="none" stroke="#000" stroke-width="1.45"/>
<rect x="1157.95" y="355.5" width="12.2" height="12.2" fill="none" stroke="#000" stroke-width="1.45"/>
<rect x="1169.55" y="352.3" width="12.2" height="12.2" fill="none" stroke="#000" stroke-width="1.45"/>
<circle cx="1058.7" cy="434.8" r="6.1" fill="none" stroke="#0606d6" stroke-width="1.45"/>
<circle cx="1068.2" cy="431" r="6.1" fill="none" stroke="#0606d6" stroke-width="1.45"/>
<circle cx="1077.86" cy="427.25" r="6.1" fill="none" stroke="#0606d6" stroke-width="1.45"/>
<circle cx="1087.68" cy="423.54" r="6.1" fill="none" stroke="#0606d6" stroke-width="1.45"/>
<circle cx="1097.65" cy="419.87" r="6.1" fill="none" stroke="#0606d6" stroke-width="1.45"/>
<circle cx="1107.79" cy="416.25" r="6.1" fill="none" stroke="#0606d6" stroke-width="1.45"/>
<circle cx="1118.09" cy="412.68" r="6.1" fill="none" stroke="#0606d6" stroke-width="1.45"/>
<circle cx="1128.54" cy="409.15" r="6.1" fill="none" stroke="#0606d6" stroke-width="1.45"/>
<circle cx="1139.15" cy="405.67" r="6.1" fill="none" stroke="#0606d6" stroke-width="1.45"/>
<circle cx="1149.93" cy="402.24" r="6.1" fill="none" stroke="#0606d6" stroke-width="1.45"/>
<circle cx="1160.86" cy="398.85" r="6.1" fill="none" stroke="#0606d6" stroke-width="1.45"/>
<circle cx="1171.95" cy="395.5" r="6.1" fill="none" stroke="#0606d6" stroke-width="1.45"/>
<circle cx="1183.2" cy="392.2" r="6.1" fill="none" stroke="#0606d6" stroke-width="1.45"/>
<circle cx="1194.61" cy="388.95" r="6.1" fill="none" stroke="#0606d6" stroke-width="1.45"/>
<circle cx="1206.18" cy="385.74" r="6.1" fill="none" stroke="#0606d6" stroke-width="1.45"/>
<circle cx="1217.9" cy="382.57" r="6.1" fill="none" stroke="#0606d6" stroke-width="1.45"/>
<circle cx="1229.79" cy="379.45" r="6.1" fill="none" stroke="#0606d6" stroke-width="1.45"/>
<circle cx="1241.84" cy="376.38" r="6.1" fill="none" stroke="#0606d6" stroke-width="1.45"/>
<circle cx="1254.04" cy="373.35" r="6.1" fill="none" stroke="#0606d6" stroke-width="1.45"/>
<circle cx="1266.4" cy="370.37" r="6.1" fill="none" stroke="#0606d6" stroke-width="1.45"/>
<circle cx="1278.93" cy="367.44" r="6.1" fill="none" stroke="#0606d6" stroke-width="1.45"/>
<circle cx="1291.61" cy="364.55" r="6.1" fill="none" stroke="#0606d6" stroke-width="1.45"/>
<circle cx="1304.45" cy="361.7" r="6.1" fill="none" stroke="#0606d6" stroke-width="1.45"/>
<circle cx="1317.45" cy="358.9" r="6.1" fill="none" stroke="#0606d6" stroke-width="1.45"/>
<line x1="963.5" y1="438.4" x2="1151.3" y2="357.8" stroke="#000" stroke-width="3.6" stroke-linecap="round"/>
<line x1="1040.5" y1="438.7" x2="1267.7" y2="363.5" stroke="#0606d6" stroke-width="3.6" stroke-linecap="round"/>
<text x="1148.8" y="83.3" font-size="33.05" fill="#000" text-anchor="start">216.2 mV dec<tspan font-size="20.49" dy="-17.6" dx="-0.8">−1</tspan></text>
<text x="1297.8" y="167.2" font-size="33.05" fill="#0606d6" text-anchor="start">212.3 mV dec<tspan font-size="20.49" dy="-17.6" dx="-0.8">−1</tspan></text>
<text x="941.4" y="353.3" font-size="33.05" fill="#000" text-anchor="start">407.4 mV dec<tspan font-size="20.49" dy="-17.6" dx="-0.8">−1</tspan></text>
<text x="1165" y="441" font-size="33.05" fill="#0606d6" text-anchor="start">304.7 mV dec<tspan font-size="20.49" dy="-17.6" dx="-0.8">−1</tspan></text>
<text x="1069.2" y="203.9" font-size="36.4" fill="#007d00" text-anchor="start">NaCl</text>
<text x="949.8" y="488.9" font-size="36" fill="#007d00" text-anchor="start">H<tspan font-size="21.6" dy="15.3">2</tspan><tspan dy="-15.3">SO</tspan><tspan font-size="21.6" dy="15.3">4</tspan></text>
<rect x="1309.8" y="236.9" width="14" height="14" fill="none" stroke="#000" stroke-width="2.2"/>
<circle cx="1317.6" cy="287.1" r="8.6" fill="none" stroke="#0606d6" stroke-width="2.2"/>
<text x="1335" y="254.9" font-size="37" fill="#000" text-anchor="start">DI water</text>
<text x="1337" y="293" font-size="37.3" fill="#0606d6" text-anchor="start">sAuNT water</text>
<text x="1249.8" y="599.7" font-size="37.3" fill="#000" text-anchor="middle">log(current density) (mA cm<tspan font-size="22.38" dy="-20.7">−2</tspan><tspan font-size="37.3" dy="20.7">)</tspan></text>
<text x="835.6" y="280.6" font-size="37.4" fill="#000" text-anchor="middle" transform="rotate(-90 835.6 280.6)" letter-spacing="0.28">Overpotential (V vs RHE)</text>
<text transform="translate(802.4 59.3) scale(0.985 1)" font-size="78.5">b</text>
<rect x="574.9" y="667.1" width="640.3" height="473.9" fill="none" stroke="#000" stroke-width="3.75"/>
<line x1="647.4" y1="1141" x2="647.4" y2="1150.3" stroke="#000" stroke-width="3.4" stroke-linecap="round"/>
<text x="647.4" y="1181.4" font-size="33.1" fill="#000" text-anchor="middle">0.3</text>
<line x1="757.17" y1="1141" x2="757.17" y2="1150.3" stroke="#000" stroke-width="3.4" stroke-linecap="round"/>
<text x="757.17" y="1181.4" font-size="33.1" fill="#000" text-anchor="middle">0.6</text>
<line x1="866.94" y1="1141" x2="866.94" y2="1150.3" stroke="#000" stroke-width="3.4" stroke-linecap="round"/>
<text x="866.94" y="1181.4" font-size="33.1" fill="#000" text-anchor="middle">0.9</text>
<line x1="976.71" y1="1141" x2="976.71" y2="1150.3" stroke="#000" stroke-width="3.4" stroke-linecap="round"/>
<text x="976.71" y="1181.4" font-size="33.1" fill="#000" text-anchor="middle">1.2</text>
<line x1="1086.48" y1="1141" x2="1086.48" y2="1150.3" stroke="#000" stroke-width="3.4" stroke-linecap="round"/>
<text x="1086.48" y="1181.4" font-size="33.1" fill="#000" text-anchor="middle">1.5</text>
<line x1="1196.25" y1="1141" x2="1196.25" y2="1150.3" stroke="#000" stroke-width="3.4" stroke-linecap="round"/>
<text x="1196.25" y="1181.4" font-size="33.1" fill="#000" text-anchor="middle">1.8</text>
<line x1="592.51" y1="1141" x2="592.51" y2="1145.6" stroke="#000" stroke-width="3.4" stroke-linecap="round"/>
<line x1="702.28" y1="1141" x2="702.28" y2="1145.6" stroke="#000" stroke-width="3.4" stroke-linecap="round"/>
<line x1="812.05" y1="1141" x2="812.05" y2="1145.6" stroke="#000" stroke-width="3.4" stroke-linecap="round"/>
<line x1="921.82" y1="1141" x2="921.82" y2="1145.6" stroke="#000" stroke-width="3.4" stroke-linecap="round"/>
<line x1="1031.6" y1="1141" x2="1031.6" y2="1145.6" stroke="#000" stroke-width="3.4" stroke-linecap="round"/>
<line x1="1141.36" y1="1141" x2="1141.36" y2="1145.6" stroke="#000" stroke-width="3.4" stroke-linecap="round"/>
<line x1="574.9" y1="1091.5" x2="565.6" y2="1091.5" stroke="#000" stroke-width="3.4" stroke-linecap="round"/>
<text x="558.8" y="1100.9" font-size="33.1" fill="#000" text-anchor="end">-0.4</text>
<line x1="574.9" y1="991.5" x2="565.6" y2="991.5" stroke="#000" stroke-width="3.4" stroke-linecap="round"/>
<text x="558.8" y="1000.9" font-size="33.1" fill="#000" text-anchor="end">0.0</text>
<line x1="574.9" y1="891.5" x2="565.6" y2="891.5" stroke="#000" stroke-width="3.4" stroke-linecap="round"/>
<text x="558.8" y="900.9" font-size="33.1" fill="#000" text-anchor="end">0.4</text>
<line x1="574.9" y1="791.5" x2="565.6" y2="791.5" stroke="#000" stroke-width="3.4" stroke-linecap="round"/>
<text x="558.8" y="800.9" font-size="33.1" fill="#000" text-anchor="end">0.8</text>
<line x1="574.9" y1="691.5" x2="565.6" y2="691.5" stroke="#000" stroke-width="3.4" stroke-linecap="round"/>
<text x="558.8" y="700.9" font-size="33.1" fill="#000" text-anchor="end">1.2</text>
<line x1="574.9" y1="1141.5" x2="570.3" y2="1141.5" stroke="#000" stroke-width="3.4" stroke-linecap="round"/>
<line x1="574.9" y1="1041.5" x2="570.3" y2="1041.5" stroke="#000" stroke-width="3.4" stroke-linecap="round"/>
<line x1="574.9" y1="941.5" x2="570.3" y2="941.5" stroke="#000" stroke-width="3.4" stroke-linecap="round"/>
<line x1="574.9" y1="841.5" x2="570.3" y2="841.5" stroke="#000" stroke-width="3.4" stroke-linecap="round"/>
<line x1="574.9" y1="741.5" x2="570.3" y2="741.5" stroke="#000" stroke-width="3.4" stroke-linecap="round"/>
<text x="894" y="1224.6" font-size="37.35" fill="#000" text-anchor="middle">Potential (V vs RHE)</text>
<text x="493.6" y="889.2" font-size="37.4" fill="#000" text-anchor="middle" transform="rotate(-90 493.6 889.2)" letter-spacing="0.40">Current density (mA cm<tspan font-size="22.44" dy="-20.7">−2</tspan><tspan font-size="37.4" dy="20.7">)</tspan></text>
<text transform="translate(464.6 676.4) scale(0.92 1)" font-size="80" font-weight="bold">c</text>
<path d="M617.3 1091 L617.34 1090.26 L617.38 1089.53 L617.43 1088.8 L617.48 1088.06 L617.54 1087.33 L617.61 1086.6 L617.68 1085.87 L617.76 1085.14 L617.83 1084.41 L617.92 1083.68 L618 1082.96 L618.09 1082.23 L618.19 1081.5 L618.28 1080.78 L618.38 1080.06 L618.48 1079.33 L618.58 1078.61 L618.69 1077.89 L618.81 1077.17 L618.93 1076.45 L619.06 1075.72 L619.2 1075 L619.35 1074.28 L619.5 1073.57 L619.66 1072.85 L619.83 1072.13 L620 1071.42 L620.17 1070.7 L620.35 1069.99 L620.54 1069.28 L620.72 1068.57 L620.91 1067.86 L621.1 1067.16 L621.29 1066.46 L621.49 1065.75 L621.7 1065.05 L621.91 1064.35 L622.12 1063.64 L622.35 1062.94 L622.58 1062.24 L622.81 1061.54 L623.05 1060.84 L623.3 1060.15 L623.55 1059.46 L623.8 1058.77 L624.07 1058.08 L624.34 1057.4 L624.61 1056.72 L624.89 1056.04 L625.17 1055.37 L625.46 1054.71 L625.76 1054.05 L626.06 1053.39 L626.37 1052.72 L626.69 1052.06 L627.02 1051.4 L627.36 1050.73 L627.7 1050.07 L628.05 1049.42 L628.41 1048.76 L628.78 1048.11 L629.16 1047.47 L629.54 1046.83 L629.93 1046.2 L630.33 1045.58 L630.73 1044.97 L631.15 1044.36 L631.57 1043.77 L631.99 1043.19 L632.43 1042.62 L632.87 1042.06 L633.32 1041.52 L633.79 1040.98 L634.27 1040.45 L634.77 1039.92 L635.29 1039.4 L635.81 1038.89 L636.35 1038.38 L636.9 1037.88 L637.46 1037.39 L638.03 1036.91 L638.6 1036.43 L639.19 1035.96 L639.77 1035.5 L640.36 1035.05 L640.96 1034.6 L641.55 1034.17 L642.15 1033.74 L642.74 1033.32 L643.34 1032.91 L643.94 1032.5 L644.54 1032.1 L645.15 1031.71 L645.77 1031.32 L646.4 1030.94 L647.03 1030.56 L647.66 1030.19 L648.3 1029.82 L648.95 1029.46 L649.59 1029.11 L650.25 1028.76 L650.9 1028.42 L651.56 1028.08 L652.22 1027.75 L652.88 1027.42 L653.54 1027.1 L654.2 1026.78 L654.86 1026.47 L655.53 1026.17 L656.19 1025.87 L656.86 1025.58 L657.52 1025.28 L658.2 1025 L658.87 1024.72 L659.54 1024.44 L660.22 1024.16 L660.9 1023.89 L661.59 1023.62 L662.27 1023.36 L662.96 1023.09 L663.64 1022.84 L664.33 1022.58 L665.02 1022.33 L665.72 1022.08 L666.41 1021.83 L667.1 1021.59 L667.8 1021.35 L668.49 1021.11 L669.19 1020.87 L669.89 1020.64 L670.58 1020.41 L671.28 1020.18 L671.98 1019.95 L672.67 1019.73 L673.37 1019.5 L674.07 1019.28 L674.77 1019.06 L675.46 1018.85 L676.16 1018.63 L676.86 1018.42 L677.56 1018.21 L678.27 1018 L678.97 1017.8 L679.67 1017.59 L680.38 1017.39 L681.08 1017.19 L681.79 1016.99 L682.5 1016.79 L683.2 1016.6 L683.91 1016.4 L684.62 1016.21 L685.33 1016.02 L686.04 1015.83 L686.74 1015.64 L687.45 1015.46 L688.16 1015.27 L688.87 1015.09 L689.58 1014.91 L690.29 1014.73 L691.01 1014.55 L691.72 1014.37 L692.43 1014.19 L693.14 1014.01 L693.85 1013.84 L694.56 1013.66 L695.27 1013.49 L695.98 1013.32 L696.7 1013.15 L697.41 1012.98 L698.12 1012.82 L698.84 1012.66 L699.55 1012.49 L700.26 1012.33 L700.98 1012.17 L701.69 1012.01 L702.41 1011.86 L703.13 1011.7 L703.84 1011.54 L704.56 1011.39 L705.27 1011.24 L705.99 1011.08 L706.71 1010.93 L707.43 1010.78 L708.14 1010.62 L708.86 1010.47 L709.58 1010.32 L710.29 1010.17 L711.01 1010.02 L711.73 1009.86 L712.44 1009.71 L713.16 1009.56 L713.88 1009.41 L714.6 1009.25 L715.31 1009.1 L716.03 1008.94 L716.74 1008.79 L717.46 1008.63 L718.18 1008.47 L718.89 1008.31 L719.61 1008.15 L720.32 1007.99 L721.04 1007.83 L721.75 1007.67 L722.46 1007.51 L723.18 1007.35 L723.89 1007.19 L724.61 1007.03 L725.32 1006.86 L726.04 1006.7 L726.75 1006.54 L727.47 1006.38 L728.18 1006.21 L728.9 1006.05 L729.61 1005.89 L730.32 1005.72 L731.04 1005.56 L731.75 1005.4 L732.47 1005.23 L733.18 1005.07 L733.9 1004.91 L734.61 1004.74 L735.32 1004.58 L736.04 1004.42 L736.75 1004.25 L737.47 1004.09 L738.18 1003.92 L738.89 1003.76 L739.61 1003.6 L740.32 1003.43 L741.04 1003.27 L741.75 1003.1 L742.46 1002.94 L743.18 1002.77 L743.89 1002.61 L744.61 1002.44 L745.32 1002.28 L746.03 1002.11 L746.75 1001.95 L747.46 1001.78 L748.17 1001.61 L748.89 1001.44 L749.6 1001.27 L750.31 1001.1 L751.03 1000.93 L751.74 1000.76 L752.45 1000.59 L753.16 1000.42 L753.88 1000.25 L754.59 1000.08 L755.3 999.91 L756.01 999.74 L756.73 999.56 L757.44 999.39 L758.15 999.22 L758.87 999.06 L759.58 998.89 L760.29 998.72 L761.01 998.55 L761.72 998.38 L762.43 998.22 L763.15 998.05 L763.86 997.89 L764.58 997.73 L765.29 997.57 L766 997.41 L766.72 997.25 L767.43 997.09 L768.15 996.94 L768.87 996.78 L769.58 996.63 L770.3 996.48 L771.02 996.33 L771.73 996.18 L772.45 996.03 L773.17 995.88 L773.89 995.73 L774.6 995.59 L775.32 995.44 L776.04 995.29 L776.76 995.15 L777.48 995 L778.2 994.86 L778.91 994.71 L779.63 994.57 L780.35 994.42 L781.07 994.28 L781.79 994.14 L782.51 994 L783.23 993.86 L783.95 993.73 L784.67 993.59 L785.39 993.45 L786.11 993.32 L786.83 993.19 L787.55 993.06 L788.28 992.93 L789 992.8 L789.72 992.67 L790.44 992.54 L791.16 992.42 L791.88 992.3 L792.61 992.18 L793.33 992.06 L794.05 991.94 L794.77 991.83 L795.5 991.72 L796.22 991.6 L796.94 991.49 L797.67 991.39 L798.39 991.28 L799.12 991.17 L799.84 991.07 L800.57 990.96 L801.29 990.86 L802.02 990.75 L802.74 990.65 L803.47 990.55 L804.2 990.45 L804.92 990.35 L805.65 990.26 L806.37 990.16 L807.1 990.06 L807.83 989.97 L808.55 989.87 L809.28 989.78 L810.01 989.69 L810.74 989.6 L811.46 989.51 L812.19 989.42 L812.92 989.33 L813.65 989.24 L814.38 989.15 L815.1 989.07 L815.83 988.98 L816.56 988.9 L817.29 988.81 L818.02 988.73 L818.74 988.65 L819.47 988.57 L820.2 988.49 L820.93 988.41 L821.66 988.33 L822.38 988.25 L823.11 988.18 L823.84 988.11 L824.57 988.04 L825.3 987.97 L826.03 987.9 L826.76 987.83 L827.49 987.77 L828.22 987.7 L828.95 987.64 L829.68 987.57 L830.41 987.51 L831.14 987.44 L831.87 987.38 L832.6 987.32 L833.33 987.25 L834.06 987.18 L834.79 987.12 L835.52 987.05 L836.25 986.98 L836.98 986.91 L837.71 986.84 L838.44 986.76 L839.16 986.69 L839.89 986.61 L840.62 986.53 L841.35 986.45 L842.08 986.37 L842.81 986.29 L843.53 986.21 L844.26 986.12 L844.99 986.04 L845.72 985.96 L846.45 985.87 L847.17 985.78 L847.9 985.7 L848.63 985.61 L849.36 985.52 L850.09 985.43 L850.81 985.34 L851.54 985.25 L852.27 985.16 L853 985.06 L853.72 984.97 L854.45 984.87 L855.18 984.78 L855.9 984.68 L856.63 984.58 L857.35 984.48 L858.08 984.38 L858.81 984.28 L859.53 984.18 L860.26 984.07 L860.98 983.97 L861.71 983.86 L862.43 983.75 L863.15 983.65 L863.88 983.54 L864.6 983.42 L865.32 983.31 L866.05 983.2 L866.77 983.08 L867.49 982.96 L868.21 982.83 L868.93 982.71 L869.65 982.58 L870.37 982.44 L871.09 982.31 L871.81 982.17 L872.53 982.03 L873.25 981.89 L873.97 981.75 L874.69 981.61 L875.4 981.46 L876.12 981.31 L876.84 981.16 L877.56 981.02 L878.28 980.87 L878.99 980.72 L879.71 980.56 L880.43 980.41 L881.15 980.26 L881.86 980.11 L882.58 979.96 L883.3 979.81 L884.02 979.66 L884.74 979.51 L885.45 979.36 L886.17 979.21 L886.89 979.07 L887.61 978.92 L888.33 978.78 L889.05 978.64 L889.77 978.5 L890.49 978.36 L891.21 978.22 L891.93 978.09 L892.65 977.95 L893.37 977.82 L894.09 977.68 L894.81 977.55 L895.53 977.42 L896.25 977.28 L896.97 977.15 L897.69 977.02 L898.41 976.88 L899.13 976.75 L899.85 976.62 L900.57 976.49 L901.29 976.36 L902.01 976.23 L902.73 976.1 L903.45 975.96 L904.18 975.83 L904.9 975.7 L905.62 975.58 L906.34 975.45 L907.06 975.32 L907.78 975.19 L908.5 975.06 L909.22 974.93 L909.95 974.8 L910.67 974.67 L911.39 974.55 L912.11 974.42 L912.83 974.29 L913.55 974.16 L914.27 974.04 L915 973.91 L915.72 973.78 L916.44 973.66 L917.16 973.53 L917.88 973.41 L918.6 973.28 L919.33 973.15 L920.05 973.03 L920.77 972.9 L921.49 972.78 L922.21 972.65 L922.94 972.53 L923.66 972.4 L924.38 972.28 L925.1 972.15 L925.82 972.03 L926.55 971.9 L927.27 971.78 L927.99 971.65 L928.71 971.53 L929.44 971.41 L930.16 971.28 L930.88 971.16 L931.6 971.04 L932.32 970.92 L933.05 970.8 L933.77 970.68 L934.49 970.56 L935.22 970.44 L935.94 970.32 L936.66 970.2 L937.38 970.08 L938.11 969.96 L938.83 969.84 L939.55 969.73 L940.28 969.61 L941 969.5 L941.72 969.38 L942.45 969.27 L943.17 969.15 L943.9 969.04 L944.62 968.93 L945.34 968.82 L946.07 968.7 L946.79 968.59 L947.52 968.48 L948.24 968.38 L948.97 968.27 L949.69 968.16 L950.41 968.05 L951.14 967.94 L951.86 967.84 L952.59 967.73 L953.31 967.62 L954.04 967.52 L954.76 967.41 L955.49 967.3 L956.21 967.2 L956.94 967.09 L957.66 966.98 L958.39 966.88 L959.11 966.77 L959.84 966.67 L960.56 966.56 L961.29 966.45 L962.01 966.34 L962.74 966.24 L963.46 966.13 L964.19 966.02 L964.91 965.91 L965.64 965.81 L966.36 965.7 L967.09 965.59 L967.81 965.48 L968.54 965.37 L969.26 965.26 L969.98 965.15 L970.71 965.04 L971.43 964.93 L972.16 964.82 L972.88 964.71 L973.61 964.6 L974.33 964.49 L975.06 964.38 L975.78 964.27 L976.5 964.16 L977.23 964.06 L977.95 963.95 L978.68 963.84 L979.4 963.73 L980.13 963.62 L980.85 963.5 L981.58 963.39 L982.3 963.28 L983.02 963.17 L983.75 963.06 L984.47 962.95 L985.2 962.84 L985.92 962.72 L986.64 962.61 L987.37 962.5 L988.09 962.38 L988.82 962.27 L989.54 962.16 L990.26 962.04 L990.99 961.93 L991.71 961.81 L992.43 961.69 L993.16 961.58 L993.88 961.46 L994.6 961.34 L995.33 961.22 L996.05 961.1 L996.77 960.98 L997.49 960.86 L998.22 960.74 L998.94 960.62 L999.66 960.49 L1000.38 960.37 L1001.11 960.25 L1001.83 960.12 L1002.55 960 L1003.27 959.87 L1003.99 959.75 L1004.72 959.62 L1005.44 959.5 L1006.16 959.37 L1006.88 959.25 L1007.6 959.12 L1008.33 959 L1009.05 958.87 L1009.77 958.75 L1010.49 958.63 L1011.21 958.5 L1011.94 958.38 L1012.66 958.26 L1013.38 958.13 L1014.1 958.01 L1014.83 957.89 L1015.55 957.77 L1016.27 957.65 L1016.99 957.53 L1017.72 957.41 L1018.44 957.3 L1019.16 957.18 L1019.89 957.07 L1020.61 956.95 L1021.34 956.84 L1022.06 956.73 L1022.79 956.62 L1023.51 956.51 L1024.24 956.4 L1024.96 956.29 L1025.69 956.18 L1026.41 956.07 L1027.14 955.97 L1027.86 955.86 L1028.59 955.75 L1029.31 955.64 L1030.04 955.53 L1030.76 955.43 L1031.49 955.32 L1032.21 955.21 L1032.94 955.1 L1033.66 954.99 L1034.38 954.88 L1035.11 954.76 L1035.83 954.65 L1036.56 954.53 L1037.28 954.42 L1038 954.3 L1038.72 954.18 L1039.45 954.06 L1040.17 953.94 L1040.89 953.81 L1041.61 953.69 L1042.33 953.56 L1043.05 953.43 L1043.77 953.29 L1044.49 953.16 L1045.21 953.03 L1045.93 952.89 L1046.65 952.75 L1047.37 952.61 L1048.09 952.47 L1048.81 952.33 L1049.53 952.18 L1050.24 952.04 L1050.96 951.89 L1051.68 951.74 L1052.4 951.6 L1053.12 951.44 L1053.84 951.29 L1054.55 951.14 L1055.27 950.98 L1055.99 950.83 L1056.7 950.67 L1057.42 950.51 L1058.14 950.35 L1058.85 950.19 L1059.57 950.02 L1060.28 949.86 L1060.99 949.69 L1061.71 949.52 L1062.42 949.35 L1063.13 949.18 L1063.84 949 L1064.55 948.83 L1065.27 948.65 L1065.98 948.47 L1066.68 948.29 L1067.39 948.11 L1068.1 947.93 L1068.81 947.75 L1069.51 947.56 L1070.22 947.37 L1070.93 947.18 L1071.63 946.98 L1072.34 946.78 L1073.04 946.58 L1073.74 946.38 L1074.45 946.17 L1075.15 945.96 L1075.85 945.75 L1076.56 945.54 L1077.26 945.32 L1077.96 945.1 L1078.66 944.88 L1079.36 944.66 L1080.06 944.43 L1080.76 944.21 L1081.45 943.98 L1082.15 943.75 L1082.84 943.51 L1083.54 943.28 L1084.23 943.04 L1084.93 942.8 L1085.62 942.56 L1086.31 942.32 L1087 942.08 L1087.69 941.83 L1088.38 941.59 L1089.07 941.34 L1089.75 941.09 L1090.44 940.84 L1091.13 940.58 L1091.81 940.32 L1092.5 940.06 L1093.19 939.8 L1093.87 939.54 L1094.55 939.27 L1095.24 938.99 L1095.92 938.72 L1096.6 938.44 L1097.28 938.16 L1097.95 937.88 L1098.63 937.59 L1099.3 937.3 L1099.98 937.01 L1100.65 936.71 L1101.31 936.41 L1101.98 936.1 L1102.64 935.79 L1103.3 935.48 L1103.96 935.17 L1104.61 934.85 L1105.27 934.52 L1105.92 934.19 L1106.57 933.85 L1107.22 933.5 L1107.86 933.15 L1108.51 932.79 L1109.15 932.43 L1109.78 932.06 L1110.42 931.69 L1111.04 931.31 L1111.67 930.93 L1112.29 930.55 L1112.91 930.16 L1113.52 929.77 L1114.14 929.37 L1114.76 928.97 L1115.37 928.57 L1115.99 928.16 L1116.6 927.75 L1117.22 927.34 L1117.83 926.93 L1118.44 926.5 L1119.04 926.08 L1119.65 925.65 L1120.25 925.22 L1120.84 924.78 L1121.43 924.34 L1122.02 923.9 L1122.6 923.45 L1123.18 922.99 L1123.75 922.53 L1124.31 922.07 L1124.87 921.6 L1125.42 921.13 L1125.97 920.65 L1126.5 920.16 L1127.03 919.68 L1127.55 919.18 L1128.06 918.68 L1128.58 918.17 L1129.09 917.65 L1129.59 917.12 L1130.09 916.59 L1130.59 916.05 L1131.08 915.51 L1131.57 914.96 L1132.06 914.4 L1132.54 913.84 L1133.02 913.28 L1133.49 912.71 L1133.96 912.14 L1134.42 911.56 L1134.89 910.98 L1135.34 910.39 L1135.79 909.81 L1136.24 909.22 L1136.69 908.63 L1137.12 908.03 L1137.56 907.44 L1137.99 906.84 L1138.41 906.25 L1138.84 905.65 L1139.25 905.05 L1139.66 904.45 L1140.07 903.85 L1140.48 903.25 L1140.88 902.64 L1141.27 902.03 L1141.67 901.42 L1142.06 900.8 L1142.44 900.18 L1142.82 899.55 L1143.2 898.92 L1143.58 898.29 L1143.95 897.66 L1144.32 897.02 L1144.69 896.38 L1145.05 895.74 L1145.41 895.1 L1145.77 894.46 L1146.12 893.81 L1146.47 893.16 L1146.82 892.51 L1147.17 891.86 L1147.51 891.21 L1147.85 890.56 L1148.19 889.91 L1148.52 889.25 L1148.85 888.6 L1149.18 887.94 L1149.51 887.29 L1149.83 886.64 L1150.15 885.98 L1150.47 885.32 L1150.79 884.67 L1151.11 884.01 L1151.42 883.34 L1151.74 882.68 L1152.05 882.02 L1152.35 881.35 L1152.66 880.68 L1152.96 880.01 L1153.26 879.34 L1153.56 878.67 L1153.86 878 L1154.15 877.32 L1154.44 876.65 L1154.73 875.97 L1155.01 875.29 L1155.29 874.62 L1155.57 873.94 L1155.84 873.26 L1156.11 872.57 L1156.38 871.89 L1156.64 871.21 L1156.9 870.53 L1157.16 869.84 L1157.41 869.15 L1157.66 868.47 L1157.9 867.78 L1158.14 867.09 L1158.38 866.4 L1158.61 865.71 L1158.84 865.01 L1159.07 864.32 L1159.29 863.62 L1159.52 862.92 L1159.74 862.22 L1159.95 861.52 L1160.17 860.82 L1160.38 860.12 L1160.6 859.42 L1160.8 858.71 L1161.01 858.01 L1161.22 857.3 L1161.43 856.6 L1161.63 855.89 L1161.83 855.19 L1162.04 854.48 L1162.24 853.78 L1162.44 853.07 L1162.64 852.37 L1162.84 851.66 L1163.04 850.96 L1163.24 850.25 L1163.44 849.55 L1163.63 848.84 L1163.83 848.14 L1164.02 847.43 L1164.22 846.72 L1164.41 846.02 L1164.6 845.31 L1164.79 844.6 L1164.97 843.89 L1165.16 843.18 L1165.34 842.47 L1165.53 841.76 L1165.71 841.06 L1165.89 840.34 L1166.07 839.63 L1166.25 838.92 L1166.42 838.21 L1166.6 837.5" fill="none" stroke="#000" stroke-width="3.5" stroke-linecap="round" stroke-linejoin="round"/>
<path d="M618.3 1100 L617.9 1096 L617.55 1091.01 L617.77 1090.29 L618 1089.57 L618.23 1088.85 L618.46 1088.14 L618.71 1087.43 L618.95 1086.73 L619.21 1086.02 L619.46 1085.32 L619.72 1084.62 L619.98 1083.93 L620.25 1083.23 L620.52 1082.54 L620.79 1081.84 L621.06 1081.15 L621.34 1080.46 L621.45 1079.75 L621.55 1079.04 L621.66 1078.34 L621.77 1077.66 L621.88 1076.97 L622.01 1076.28 L622.14 1075.59 L622.29 1074.9 L622.43 1074.21 L622.59 1073.51 L622.75 1072.82 L622.92 1072.12 L623.09 1071.43 L623.26 1070.73 L623.44 1070.03 L623.62 1069.34 L623.81 1068.64 L624 1067.95 L624.19 1067.26 L624.38 1066.58 L624.58 1065.9 L624.78 1065.22 L624.99 1064.54 L625.2 1063.86 L625.42 1063.18 L625.65 1062.51 L625.88 1061.83 L626.12 1061.16 L626.36 1060.49 L626.61 1059.83 L626.86 1059.16 L627.12 1058.51 L627.39 1057.85 L627.65 1057.2 L627.93 1056.56 L628.21 1055.92 L628.49 1055.29 L628.78 1054.65 L629.08 1054.01 L629.39 1053.38 L629.7 1052.74 L630.03 1052.11 L630.35 1051.48 L630.69 1050.85 L631.03 1050.22 L631.38 1049.61 L631.74 1049 L632.1 1048.39 L632.47 1047.8 L632.84 1047.21 L633.22 1046.64 L633.61 1046.07 L634 1045.52 L634.4 1044.98 L634.8 1044.46 L635.2 1043.95 L635.61 1043.46 L636.03 1042.97 L636.47 1042.49 L636.92 1042.01 L637.4 1041.53 L637.88 1041.06 L638.39 1040.59 L638.9 1040.12 L639.42 1039.66 L639.96 1039.2 L640.5 1038.75 L641.05 1038.31 L641.61 1037.87 L642.18 1037.44 L642.74 1037.01 L643.31 1036.59 L643.89 1036.18 L644.46 1035.78 L645.03 1035.38 L645.6 1035 L646.18 1034.62 L646.76 1034.24 L647.35 1033.87 L647.95 1033.51 L648.55 1033.14 L649.16 1032.79 L649.78 1032.44 L650.4 1032.09 L651.02 1031.75 L651.65 1031.4 L652.27 1031.04 L652.89 1030.69 L653.51 1030.35 L654.14 1030 L654.77 1029.67 L655.4 1029.33 L656.04 1029.01 L656.67 1028.68 L657.31 1028.37 L657.94 1028.05 L658.58 1027.74 L659.23 1027.44 L659.88 1027.13 L660.53 1026.83 L661.18 1026.54 L661.84 1026.24 L662.5 1025.95 L663.16 1025.67 L663.82 1025.38 L664.49 1025.1 L665.16 1024.82 L665.83 1024.54 L666.5 1024.27 L667.17 1024 L667.85 1023.73 L668.53 1023.46 L669.21 1023.2 L669.89 1022.94 L670.57 1022.68 L671.25 1022.42 L671.93 1022.16 L672.61 1021.91 L673.3 1021.66 L673.98 1021.41 L674.66 1021.16 L675.34 1020.92 L676.03 1020.67 L676.71 1020.43 L677.4 1020.19 L678.08 1019.95 L678.77 1019.72 L679.46 1019.48 L680.15 1019.25 L680.84 1019.02 L681.54 1018.79 L682.23 1018.57 L682.93 1018.34 L683.62 1018.12 L684.32 1017.9 L685.01 1017.67 L685.71 1017.46 L686.41 1017.24 L687.11 1017.02 L687.81 1016.81 L688.51 1016.59 L689.21 1016.38 L689.91 1016.17 L690.61 1015.96 L691.31 1015.75 L692.01 1015.54 L692.71 1015.34 L693.41 1015.13 L694.12 1014.93 L694.82 1014.72 L695.52 1014.52 L696.22 1014.32 L696.92 1014.12 L697.63 1013.93 L698.33 1013.73 L699.04 1013.54 L699.74 1013.35 L700.45 1013.16 L701.16 1012.97 L701.86 1012.78 L702.57 1012.59 L703.28 1012.41 L703.99 1012.22 L704.7 1012.04 L705.41 1011.85 L706.12 1011.67 L706.83 1011.49 L707.54 1011.3 L708.25 1011.12 L708.96 1010.94 L709.67 1010.76 L710.38 1010.58 L711.09 1010.39 L711.8 1010.21 L712.51 1010.03 L713.22 1009.85 L713.93 1009.66 L714.64 1009.48 L715.35 1009.29 L716.06 1009.11 L716.77 1008.92 L717.48 1008.74 L718.19 1008.55 L718.9 1008.36 L719.61 1008.17 L720.32 1007.99 L721.04 1007.83 L721.75 1007.67 L722.46 1007.51 L723.18 1007.35 L723.89 1007.19 L724.61 1007.03 L725.32 1006.86 L726.04 1006.7 L726.75 1006.54 L727.47 1006.38 L728.18 1006.21 L728.9 1006.05 L729.61 1005.89 L730.32 1005.72 L731.04 1005.56 L731.75 1005.4 L732.47 1005.23 L733.18 1005.07 L733.9 1004.91 L734.61 1004.74 L735.32 1004.58 L736.04 1004.42 L736.75 1004.25 L737.47 1004.09 L738.18 1003.92 L738.89 1003.76 L739.61 1003.6 L740.32 1003.43 L741.04 1003.27 L741.75 1003.1 L742.46 1002.94 L743.18 1002.77 L743.89 1002.61 L744.61 1002.44 L745.32 1002.28 L746.03 1002.11 L746.75 1001.95 L747.46 1001.78 L748.17 1001.61 L748.89 1001.44 L749.6 1001.27 L750.31 1001.1 L751.03 1000.93 L751.74 1000.76 L752.45 1000.59 L753.16 1000.42 L753.88 1000.25 L754.59 1000.08 L755.3 999.91 L756.01 999.74 L756.73 999.56 L757.44 999.39 L758.15 999.22 L758.87 999.06 L759.58 998.89 L760.29 998.72 L761.01 998.55 L761.72 998.38 L762.43 998.22 L763.15 998.05 L763.86 997.89 L764.58 997.73 L765.29 997.57 L766 997.41 L766.72 997.25 L767.43 997.09 L768.15 996.94 L768.87 996.78 L769.58 996.63 L770.3 996.48 L771.02 996.33 L771.73 996.18 L772.45 996.03 L773.17 995.88 L773.89 995.73 L774.6 995.59 L775.32 995.44 L776.04 995.29 L776.76 995.15 L777.48 995 L778.2 994.86 L778.91 994.71 L779.63 994.57 L780.35 994.42 L781.07 994.28 L781.79 994.14 L782.51 994 L783.23 993.86 L783.95 993.73 L784.67 993.59 L785.39 993.45 L786.11 993.32 L786.83 993.19 L787.55 993.06 L788.28 992.93 L789 992.8 L789.72 992.67 L790.44 992.54 L791.16 992.42 L791.88 992.3 L792.61 992.18 L793.33 992.06 L794.05 991.94 L794.77 991.83 L795.5 991.72 L796.22 991.6 L796.94 991.49 L797.67 991.39 L798.39 991.28 L799.12 991.17 L799.84 991.07 L800.57 990.96 L801.29 990.86 L802.02 990.75 L802.74 990.65 L803.47 990.55 L804.2 990.45 L804.92 990.35 L805.65 990.26 L806.37 990.16 L807.1 990.06 L807.83 989.97 L808.55 989.87 L809.28 989.78 L810.01 989.69 L810.74 989.6 L811.46 989.51 L812.19 989.42 L812.92 989.33 L813.65 989.24 L814.38 989.15 L815.1 989.07 L815.83 988.98 L816.56 988.9 L817.29 988.81 L818.02 988.73 L818.74 988.65 L819.47 988.57 L820.2 988.49 L820.93 988.41 L821.66 988.33 L822.38 988.25 L823.11 988.18 L823.84 988.11 L824.57 988.04 L825.3 987.97 L826.03 987.9 L826.76 987.83 L827.49 987.77 L828.22 987.7 L828.95 987.64 L829.68 987.57 L830.41 987.51 L831.14 987.44 L831.87 987.38 L832.6 987.32 L833.33 987.25 L834.06 987.18 L834.79 987.12 L835.52 987.05 L836.25 986.98 L836.98 986.91 L837.71 986.84 L838.44 986.76 L839.16 986.69 L839.89 986.61 L840.62 986.53 L841.35 986.45 L842.08 986.37 L842.81 986.29 L843.53 986.21 L844.26 986.12 L844.99 986.04 L845.72 985.96 L846.45 985.87 L847.17 985.78 L847.9 985.7 L848.63 985.61 L849.36 985.52 L850.09 985.43 L850.81 985.34 L851.54 985.25 L852.27 985.16 L853 985.06 L853.72 984.97 L854.45 984.87 L855.18 984.78 L855.9 984.68 L856.63 984.58 L857.35 984.48 L858.08 984.38 L858.81 984.28 L859.53 984.18 L860.26 984.07 L860.98 983.97 L861.71 983.86 L862.43 983.75 L863.15 983.65 L863.88 983.54 L864.6 983.42 L865.32 983.31 L866.05 983.2 L866.77 983.08 L867.49 982.96 L868.21 982.83 L868.93 982.71 L869.65 982.58 L870.37 982.44 L871.09 982.31 L871.81 982.17 L872.53 982.03 L873.25 981.89 L873.97 981.75 L874.69 981.61 L875.4 981.46 L876.12 981.31 L876.84 981.16 L877.56 981.02 L878.28 980.87 L878.99 980.72 L879.71 980.56 L880.43 980.41 L881.15 980.26 L881.86 980.11 L882.58 979.96 L883.3 979.81 L884.02 979.66 L884.74 979.51 L885.45 979.36 L886.17 979.21 L886.89 979.07 L887.61 978.92 L888.33 978.78 L889.05 978.64 L889.77 978.5 L890.49 978.36 L891.21 978.22 L891.93 978.09 L892.65 977.95 L893.37 977.82 L894.09 977.68 L894.81 977.55 L895.53 977.42 L896.25 977.28 L896.97 977.15 L897.69 977.02 L898.41 976.88 L899.13 976.75 L899.85 976.62 L900.57 976.49 L901.29 976.36 L902.01 976.23 L902.73 976.1 L903.45 975.96 L904.18 975.83 L904.9 975.7 L905.62 975.58 L906.34 975.45 L907.06 975.32 L907.78 975.19 L908.5 975.06 L909.22 974.93 L909.95 974.8 L910.67 974.67 L911.39 974.55 L912.11 974.42 L912.83 974.29 L913.55 974.16 L914.27 974.04 L915 973.91 L915.72 973.78 L916.44 973.66 L917.16 973.53 L917.88 973.41 L918.6 973.28 L919.33 973.15 L920.05 973.03 L920.77 972.9 L921.49 972.78 L922.21 972.65 L922.94 972.53 L923.66 972.4 L924.38 972.28 L925.1 972.15 L925.82 972.03 L926.55 971.9 L927.27 971.78 L927.99 971.65 L928.71 971.53 L929.44 971.41 L930.16 971.28 L930.88 971.16 L931.6 971.04 L932.32 970.92 L933.05 970.8 L933.77 970.68 L934.49 970.56 L935.22 970.44 L935.94 970.32 L936.66 970.2 L937.38 970.08 L938.11 969.96 L938.83 969.84 L939.55 969.73 L940.28 969.61 L941 969.5 L941.72 969.38 L942.45 969.27 L943.17 969.15 L943.9 969.04 L944.62 968.93 L945.34 968.82 L946.07 968.7 L946.79 968.59 L947.52 968.48 L948.24 968.38 L948.97 968.27 L949.69 968.16 L950.41 968.05 L951.14 967.94 L951.86 967.84 L952.59 967.73 L953.31 967.62 L954.04 967.52 L954.76 967.41 L955.49 967.3 L956.21 967.2 L956.94 967.09 L957.66 966.98 L958.39 966.88 L959.11 966.77 L959.84 966.67 L960.56 966.56 L961.29 966.45 L962.01 966.34 L962.74 966.24 L963.46 966.13 L964.19 966.02 L964.91 965.91 L965.64 965.81 L966.36 965.7 L967.09 965.59 L967.81 965.48 L968.54 965.37 L969.26 965.26 L969.98 965.15 L970.71 965.04 L971.43 964.93 L972.16 964.82 L972.88 964.71 L973.61 964.6 L974.33 964.49 L975.06 964.38 L975.78 964.27 L976.5 964.16 L977.23 964.06 L977.95 963.95 L978.68 963.84 L979.4 963.73 L980.13 963.62 L980.85 963.5 L981.58 963.39 L982.3 963.28 L983.02 963.17 L983.75 963.06 L984.47 962.95 L985.2 962.84 L985.92 962.72 L986.64 962.61 L987.37 962.5 L988.09 962.38 L988.82 962.27 L989.54 962.16 L990.26 962.04 L990.99 961.93 L991.71 961.81 L992.43 961.69 L993.16 961.58 L993.88 961.46 L994.6 961.34 L995.33 961.22 L996.05 961.1 L996.77 960.98 L997.49 960.86 L998.22 960.74 L998.94 960.62 L999.66 960.49 L1000.38 960.37 L1001.11 960.25 L1001.83 960.12 L1002.55 960 L1003.27 959.87 L1003.99 959.75 L1004.72 959.62 L1005.44 959.5 L1006.16 959.37 L1006.88 959.25 L1007.6 959.12 L1008.33 959 L1009.05 958.87 L1009.77 958.75 L1010.49 958.63 L1011.21 958.5 L1011.94 958.38 L1012.66 958.26 L1013.38 958.13 L1014.1 958.01 L1014.83 957.89 L1015.55 957.77 L1016.27 957.65 L1016.99 957.53 L1017.72 957.41 L1018.44 957.3 L1019.16 957.18 L1019.89 957.07 L1020.61 956.95 L1021.34 956.84 L1022.06 956.73 L1022.79 956.62 L1023.51 956.51 L1024.24 956.4 L1024.96 956.29 L1025.69 956.18 L1026.41 956.07 L1027.14 955.97 L1027.86 955.86 L1028.59 955.75 L1029.31 955.64 L1030.04 955.53 L1030.76 955.43 L1031.49 955.32 L1032.21 955.21 L1032.94 955.1 L1033.66 954.99 L1034.38 954.88 L1035.11 954.76 L1035.83 954.65 L1036.56 954.53 L1037.28 954.42 L1038 954.3 L1038.72 954.18 L1039.45 954.06 L1040.17 953.94 L1040.89 953.81 L1041.61 953.69 L1042.33 953.56 L1043.05 953.43 L1043.77 953.29 L1044.49 953.16 L1045.21 953.03 L1045.93 952.89 L1046.65 952.75 L1047.37 952.61 L1048.09 952.47 L1048.81 952.33 L1049.53 952.18 L1050.24 952.04 L1050.96 951.89 L1051.68 951.74 L1052.4 951.6 L1053.12 951.44 L1053.84 951.29 L1054.55 951.14 L1055.27 950.98 L1055.99 950.83 L1056.7 950.67 L1057.42 950.51 L1058.14 950.35 L1058.85 950.19 L1059.57 950.02 L1060.28 949.86 L1060.99 949.69 L1061.71 949.52 L1062.42 949.35 L1063.13 949.18 L1063.84 949 L1064.55 948.83 L1065.27 948.65 L1065.98 948.47 L1066.68 948.29 L1067.39 948.11 L1068.1 947.93 L1068.81 947.75 L1069.51 947.56 L1070.22 947.37 L1070.93 947.18 L1071.63 946.98 L1072.34 946.78 L1073.04 946.58 L1073.74 946.38 L1074.45 946.17 L1075.15 945.96 L1075.85 945.75 L1076.56 945.54 L1077.26 945.32 L1077.96 945.1 L1078.66 944.88 L1079.36 944.66 L1080.06 944.43 L1080.76 944.21 L1081.45 943.98 L1082.15 943.75 L1082.84 943.51 L1083.54 943.28 L1084.23 943.04 L1084.93 942.8 L1085.62 942.56 L1086.31 942.32 L1087 942.08 L1087.69 941.83 L1088.38 941.59 L1089.07 941.34 L1089.75 941.09 L1090.44 940.82 L1091.11 940.55 L1091.79 940.27 L1092.47 939.99 L1093.15 939.7 L1093.82 939.42 L1094.5 939.13 L1095.17 938.84 L1095.85 938.54 L1096.52 938.24 L1097.19 937.94 L1097.85 937.64 L1098.52 937.33 L1099.18 937.02 L1099.84 936.71 L1100.5 936.39 L1101.16 936.07 L1101.82 935.75 L1102.47 935.42 L1103.12 935.09 L1103.76 934.76 L1104.4 934.42 L1105.04 934.08 L1105.68 933.73 L1106.32 933.37 L1106.95 933.01 L1107.58 932.64 L1108.21 932.27 L1108.84 931.89 L1109.46 931.51 L1110.08 931.12 L1110.69 930.73 L1111.3 930.33 L1111.91 929.93 L1112.51 929.53 L1113.11 929.12 L1113.72 928.71 L1114.32 928.3 L1114.92 927.88 L1115.52 927.46 L1116.12 927.04 L1116.72 926.61 L1117.31 926.18 L1117.91 925.75 L1118.5 925.31 L1119.08 924.87 L1119.67 924.42 L1120.25 923.98 L1120.82 923.52 L1121.39 923.07 L1121.95 922.61 L1122.51 922.15 L1123.06 921.68 L1123.6 921.21 L1124.14 920.74 L1124.67 920.26 L1125.19 919.78 L1125.7 919.29 L1126.2 918.8 L1126.7 918.3 L1127.2 917.8 L1127.69 917.28 L1128.17 916.76 L1128.66 916.23 L1129.14 915.7 L1129.63 915.17 L1130.12 914.64 L1130.6 914.1 L1131.08 913.55 L1131.55 913 L1132.02 912.44 L1132.49 911.88 L1132.95 911.32 L1133.41 910.75 L1133.86 910.17 L1134.31 909.6 L1134.76 909.02 L1135.2 908.44 L1135.64 907.85 L1136.08 907.26 L1136.51 906.68 L1136.93 906.09 L1137.35 905.49 L1137.77 904.9 L1138.18 904.31 L1138.59 903.72 L1138.99 903.13 L1139.39 902.53 L1139.79 901.93 L1140.18 901.33 L1140.57 900.72 L1140.95 900.11 L1141.34 899.49 L1141.71 898.87 L1142.09 898.25 L1142.46 897.63 L1142.83 897 L1143.2 896.37 L1143.56 895.74 L1143.92 895.1 L1144.28 894.47 L1144.63 893.83 L1144.98 893.19 L1145.33 892.54 L1145.68 891.9 L1146.02 891.26 L1146.36 890.61 L1146.7 889.96 L1147.03 889.31 L1147.36 888.66 L1147.69 888.01 L1148.02 887.36 L1148.34 886.71 L1148.67 886.06 L1148.99 885.41 L1149.3 884.76 L1149.62 884.1 L1149.94 883.45 L1150.25 882.79 L1150.56 882.13 L1150.87 881.47 L1151.17 880.81 L1151.48 880.14 L1151.78 879.48 L1152.08 878.81 L1152.37 878.15 L1152.67 877.48 L1152.96 876.81 L1153.24 876.14 L1153.53 875.47 L1153.81 874.8 L1154.09 874.12 L1154.36 873.45 L1154.63 872.77 L1154.9 872.1 L1155.17 871.42 L1155.43 870.75 L1155.68 870.07 L1155.94 869.39 L1156.19 868.71 L1156.43 868.03 L1156.67 867.35 L1156.91 866.67 L1157.15 865.98 L1157.38 865.29 L1157.61 864.6 L1157.83 863.91 L1158.06 863.22 L1158.28 862.53 L1158.5 861.83 L1158.71 861.14 L1158.93 860.44 L1159.14 859.74 L1159.35 859.04 L1159.56 858.34 L1159.77 857.64 L1159.97 856.94 L1160.18 856.24 L1160.38 855.53 L1160.58 854.83 L1160.79 854.13 L1160.99 853.42 L1161.19 852.72 L1161.39 852.01 L1161.59 851.31 L1161.79 850.6 L1161.99 849.9 L1162.19 849.2 L1162.38 848.5 L1162.58 847.79 L1162.77 847.09 L1162.96 846.38 L1163.15 845.68 L1163.34 844.97 L1163.53 844.27 L1163.72 843.56 L1163.9 842.85 L1164.08 842.15 L1164.27 841.44 L1164.45 840.73 L1164.63 840.03 L1164.81 839.32 L1164.99 838.61 L1165.16 837.9 L1165.34 837.19 L1167.05 830.92" fill="none" stroke="#e90e0e" stroke-width="3.2" stroke-linecap="round" stroke-linejoin="round" stroke-dasharray="13.2 17.2" stroke-dashoffset="4.58"/>
<path d="M616.9 1098.97l0.24 -1.18M620.66 1080.42l0.33 -1.15M627.14 1062.59l0.58 -1.05M640.21 1044.71l0.86 -0.84M657.89 1031.88l1.05 -0.58M676.89 1024.16l1.13 -0.39M694.66 1019.03l1.16 -0.29M712.43 1015.2l1.18 -0.24M731.48 1011.39l1.18 -0.24M749.25 1007.59l1.17 -0.25M767.04 1003.79l1.17 -0.29M785.33 998.73l1.16 -0.32M803.86 993.64l1.16 -0.3M821.63 989.29l1.18 -0.24M839.41 986.5l1.18 -0.24M857.19 982.2l1.17 -0.27M876.24 977.88l1.17 -0.27M894.02 973.8l1.18 -0.24M913.06 970.24l1.18 -0.22M930.84 966.94l1.18 -0.23M949.13 963.14l1.18 -0.24M967.66 959.32l1.18 -0.23M985.95 956.01l1.18 -0.21M1003.98 952.97l1.18 -0.22M1022.27 949.17l1.17 -0.24M1040.56 945.36l1.17 -0.25M1058.34 941.58l1.16 -0.31M1076.89 935.77l1.14 -0.36M1094.72 930.3l1.04 -0.6M1111.89 915.84l0.82 -0.88M1125.38 897.81l0.64 -1.02M1134.87 879.55l0.47 -1.1M1141.32 860.57l0.36 -1.14M1146.35 843.28l0.3 -1.16M1150.47 824.99l0.25 -1.17M1154.29 806.79l0.22 -1.18M1157.4 788.19l0.21 -1.18M1160.7 770.39l0.21 -1.18M1163.71 752.19l0.18 -1.19M1166.22 733.59l0.16 -1.19" fill="none" stroke="#0606d6" stroke-width="3.2" stroke-linecap="round"/>
<line x1="605" y1="714.3" x2="688.9" y2="714.3" stroke="#000" stroke-width="3.7" stroke-linecap="round"/>
<path d="M604.7 762.3 H691" stroke="#e90e0e" stroke-width="3.1" stroke-linecap="round" stroke-dasharray="13.0 17.3" fill="none"/>
<path d="M604.8 809.2 H691" stroke="#0606d6" stroke-width="3.2" stroke-linecap="round" stroke-dasharray="1.4 16.75" fill="none"/>
<text x="700.8" y="725.7" font-size="37.3" fill="#000" text-anchor="start">DI water</text>
<text x="699.6" y="774" font-size="37.3" fill="#e90e0e" text-anchor="start">Blank water</text>
<text x="699.8" y="820.4" font-size="37.4" fill="#0606d6" text-anchor="start">sAuNT water</text>
</svg>
</body>
</html>
